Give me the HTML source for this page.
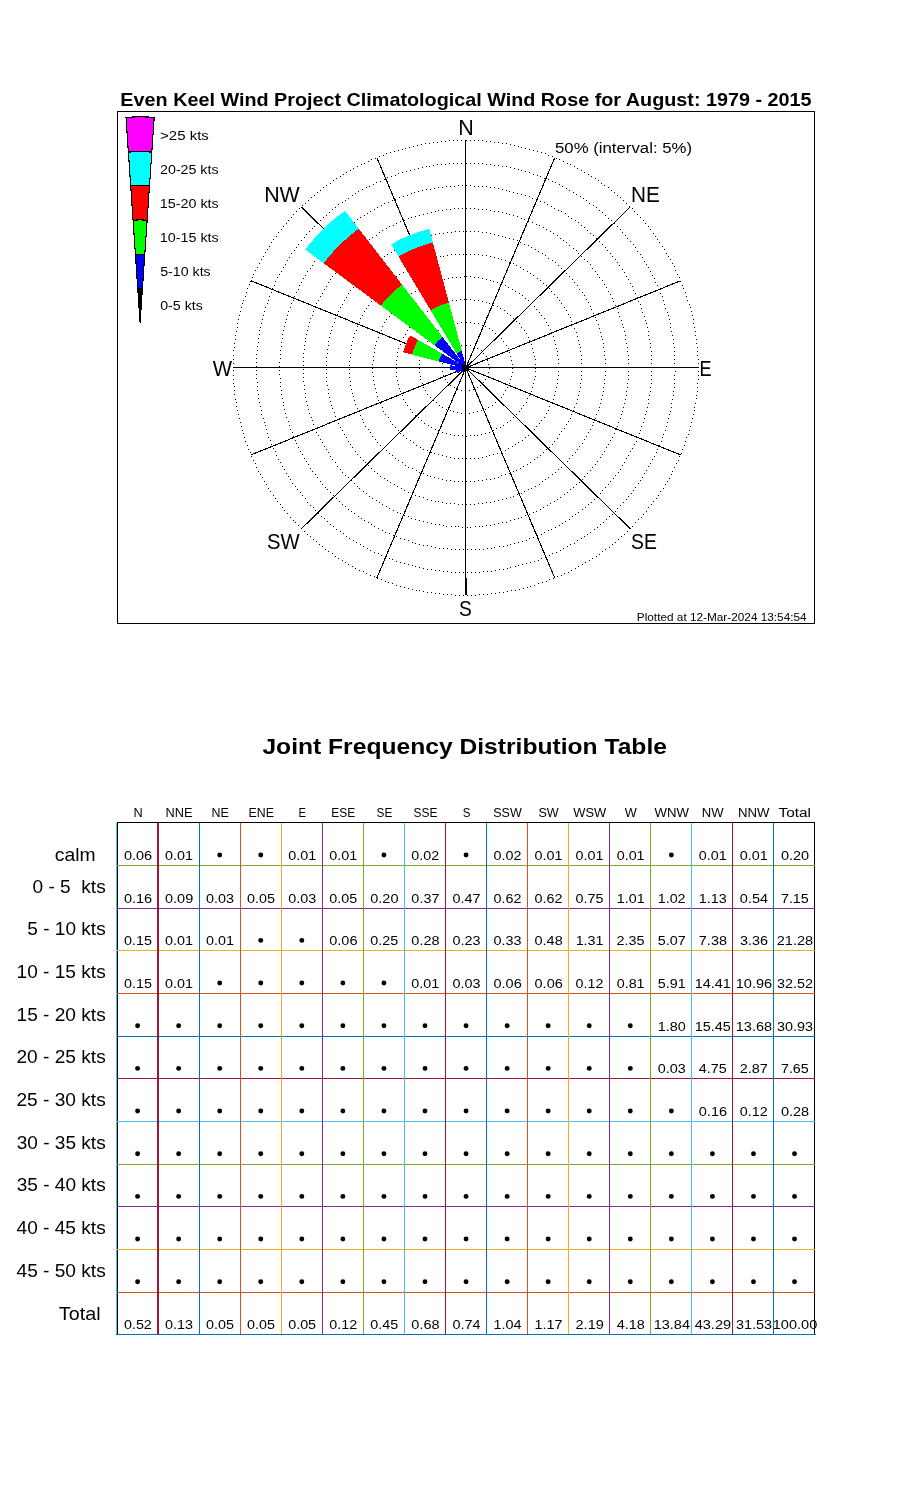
<!DOCTYPE html>
<html><head><meta charset="utf-8"><title>Wind Rose</title>
<style>html,body{margin:0;padding:0;background:#fff;}svg{display:block;will-change:transform;}
text{font-family:"Liberation Sans",sans-serif;}</style></head>
<body><svg width="900" height="1500" viewBox="0 0 900 1500">
<rect width="900" height="1500" fill="#fff"/>
<g shape-rendering="crispEdges"><rect x="117.5" y="111.5" width="697" height="512" fill="none" stroke="#000" stroke-width="1"/>
<path fill="#000" d="M466 345h1v1h-1zM470 345h1v1h-1zM474 346h1v1h-1zM477 348h1v1h-1zM481 350h1v1h-1zM483 353h1v1h-1zM486 356h1v1h-1zM487 360h1v1h-1zM488 364h1v1h-1zM489 368h1v1h-1zM488 372h1v1h-1zM487 376h1v1h-1zM485 379h1v1h-1zM483 382h1v1h-1zM480 385h1v1h-1zM477 387h1v1h-1zM473 389h1v1h-1zM469 390h1v1h-1zM465 390h1v1h-1zM461 390h1v1h-1zM457 389h1v1h-1zM454 387h1v1h-1zM450 385h1v1h-1zM447 382h1v1h-1zM445 379h1v1h-1zM443 375h1v1h-1zM442 371h1v1h-1zM442 367h1v1h-1zM442 363h1v1h-1zM444 359h1v1h-1zM445 356h1v1h-1zM448 353h1v1h-1zM450 350h1v1h-1zM454 348h1v1h-1zM457 346h1v1h-1zM461 345h1v1h-1zM465 345h1v1h-1zM466 322h1v1h-1zM470 322h1v1h-1zM474 323h1v1h-1zM478 323h1v1h-1zM482 325h1v1h-1zM485 326h1v1h-1zM489 328h1v1h-1zM492 330h1v1h-1zM495 333h1v1h-1zM498 335h1v1h-1zM501 338h1v1h-1zM503 341h1v1h-1zM506 345h1v1h-1zM508 348h1v1h-1zM509 352h1v1h-1zM510 356h1v1h-1zM511 360h1v1h-1zM512 364h1v1h-1zM512 368h1v1h-1zM512 372h1v1h-1zM511 376h1v1h-1zM510 379h1v1h-1zM509 383h1v1h-1zM507 387h1v1h-1zM505 390h1v1h-1zM503 394h1v1h-1zM501 397h1v1h-1zM498 400h1v1h-1zM495 402h1v1h-1zM492 405h1v1h-1zM488 407h1v1h-1zM485 409h1v1h-1zM481 410h1v1h-1zM477 411h1v1h-1zM473 412h1v1h-1zM469 413h1v1h-1zM465 413h1v1h-1zM461 413h1v1h-1zM457 412h1v1h-1zM453 411h1v1h-1zM450 410h1v1h-1zM446 409h1v1h-1zM442 407h1v1h-1zM439 405h1v1h-1zM436 402h1v1h-1zM433 400h1v1h-1zM430 397h1v1h-1zM427 394h1v1h-1zM425 390h1v1h-1zM423 387h1v1h-1zM422 383h1v1h-1zM420 379h1v1h-1zM420 376h1v1h-1zM419 372h1v1h-1zM419 368h1v1h-1zM419 364h1v1h-1zM419 360h1v1h-1zM420 356h1v1h-1zM422 352h1v1h-1zM423 348h1v1h-1zM425 345h1v1h-1zM427 341h1v1h-1zM430 338h1v1h-1zM432 335h1v1h-1zM435 333h1v1h-1zM438 330h1v1h-1zM442 328h1v1h-1zM445 326h1v1h-1zM449 325h1v1h-1zM453 323h1v1h-1zM457 323h1v1h-1zM461 322h1v1h-1zM465 322h1v1h-1zM466 299h1v1h-1zM470 299h1v1h-1zM474 300h1v1h-1zM478 300h1v1h-1zM482 301h1v1h-1zM486 302h1v1h-1zM489 303h1v1h-1zM493 305h1v1h-1zM497 306h1v1h-1zM500 308h1v1h-1zM504 310h1v1h-1zM507 313h1v1h-1zM510 315h1v1h-1zM513 318h1v1h-1zM516 321h1v1h-1zM519 323h1v1h-1zM521 327h1v1h-1zM524 330h1v1h-1zM526 333h1v1h-1zM528 337h1v1h-1zM529 340h1v1h-1zM531 344h1v1h-1zM532 348h1v1h-1zM533 352h1v1h-1zM534 356h1v1h-1zM535 359h1v1h-1zM535 364h1v1h-1zM535 368h1v1h-1zM535 371h1v1h-1zM535 376h1v1h-1zM534 379h1v1h-1zM533 383h1v1h-1zM532 387h1v1h-1zM531 391h1v1h-1zM529 395h1v1h-1zM527 398h1v1h-1zM526 402h1v1h-1zM523 405h1v1h-1zM521 408h1v1h-1zM519 411h1v1h-1zM516 414h1v1h-1zM513 417h1v1h-1zM510 420h1v1h-1zM507 422h1v1h-1zM503 425h1v1h-1zM500 427h1v1h-1zM496 428h1v1h-1zM493 430h1v1h-1zM489 432h1v1h-1zM485 433h1v1h-1zM481 434h1v1h-1zM477 435h1v1h-1zM474 435h1v1h-1zM470 435h1v1h-1zM466 436h1v1h-1zM462 435h1v1h-1zM458 435h1v1h-1zM454 435h1v1h-1zM450 434h1v1h-1zM446 433h1v1h-1zM442 432h1v1h-1zM438 430h1v1h-1zM435 429h1v1h-1zM431 427h1v1h-1zM428 425h1v1h-1zM424 423h1v1h-1zM421 420h1v1h-1zM418 417h1v1h-1zM415 415h1v1h-1zM412 412h1v1h-1zM410 409h1v1h-1zM407 405h1v1h-1zM405 402h1v1h-1zM403 399h1v1h-1zM402 395h1v1h-1zM400 391h1v1h-1zM399 388h1v1h-1zM398 384h1v1h-1zM397 380h1v1h-1zM396 376h1v1h-1zM396 372h1v1h-1zM396 368h1v1h-1zM396 364h1v1h-1zM396 360h1v1h-1zM397 356h1v1h-1zM397 352h1v1h-1zM398 348h1v1h-1zM400 344h1v1h-1zM401 341h1v1h-1zM403 337h1v1h-1zM405 334h1v1h-1zM407 330h1v1h-1zM409 327h1v1h-1zM412 324h1v1h-1zM414 321h1v1h-1zM417 318h1v1h-1zM420 315h1v1h-1zM423 313h1v1h-1zM427 311h1v1h-1zM430 309h1v1h-1zM433 307h1v1h-1zM437 305h1v1h-1zM441 303h1v1h-1zM445 302h1v1h-1zM448 301h1v1h-1zM452 300h1v1h-1zM456 300h1v1h-1zM460 299h1v1h-1zM464 299h1v1h-1zM466 276h1v1h-1zM470 276h1v1h-1zM474 277h1v1h-1zM478 277h1v1h-1zM482 278h1v1h-1zM486 279h1v1h-1zM490 280h1v1h-1zM493 281h1v1h-1zM497 282h1v1h-1zM501 283h1v1h-1zM505 285h1v1h-1zM508 287h1v1h-1zM512 289h1v1h-1zM515 291h1v1h-1zM519 293h1v1h-1zM522 295h1v1h-1zM525 298h1v1h-1zM528 300h1v1h-1zM531 303h1v1h-1zM534 306h1v1h-1zM536 309h1v1h-1zM539 312h1v1h-1zM541 315h1v1h-1zM544 318h1v1h-1zM546 322h1v1h-1zM548 325h1v1h-1zM550 329h1v1h-1zM551 332h1v1h-1zM553 336h1v1h-1zM554 340h1v1h-1zM555 344h1v1h-1zM556 348h1v1h-1zM557 351h1v1h-1zM557 355h1v1h-1zM558 359h1v1h-1zM558 363h1v1h-1zM558 367h1v1h-1zM558 371h1v1h-1zM558 375h1v1h-1zM557 379h1v1h-1zM557 383h1v1h-1zM556 387h1v1h-1zM555 391h1v1h-1zM554 395h1v1h-1zM553 399h1v1h-1zM551 402h1v1h-1zM549 406h1v1h-1zM548 410h1v1h-1zM546 413h1v1h-1zM544 417h1v1h-1zM541 420h1v1h-1zM539 423h1v1h-1zM536 426h1v1h-1zM534 429h1v1h-1zM531 432h1v1h-1zM528 435h1v1h-1zM525 437h1v1h-1zM522 440h1v1h-1zM518 442h1v1h-1zM515 444h1v1h-1zM512 446h1v1h-1zM508 448h1v1h-1zM505 450h1v1h-1zM501 451h1v1h-1zM497 453h1v1h-1zM493 454h1v1h-1zM489 455h1v1h-1zM486 456h1v1h-1zM482 457h1v1h-1zM478 458h1v1h-1zM474 458h1v1h-1zM470 458h1v1h-1zM466 458h1v1h-1zM462 458h1v1h-1zM458 458h1v1h-1zM454 458h1v1h-1zM450 457h1v1h-1zM446 456h1v1h-1zM442 455h1v1h-1zM438 454h1v1h-1zM434 453h1v1h-1zM431 452h1v1h-1zM427 450h1v1h-1zM423 449h1v1h-1zM420 447h1v1h-1zM416 445h1v1h-1zM413 442h1v1h-1zM410 440h1v1h-1zM406 438h1v1h-1zM403 435h1v1h-1zM400 433h1v1h-1zM398 430h1v1h-1zM395 427h1v1h-1zM392 424h1v1h-1zM390 421h1v1h-1zM388 417h1v1h-1zM385 414h1v1h-1zM383 411h1v1h-1zM382 407h1v1h-1zM380 403h1v1h-1zM378 400h1v1h-1zM377 396h1v1h-1zM376 392h1v1h-1zM375 388h1v1h-1zM374 384h1v1h-1zM373 380h1v1h-1zM373 376h1v1h-1zM372 372h1v1h-1zM372 368h1v1h-1zM372 364h1v1h-1zM373 360h1v1h-1zM373 356h1v1h-1zM374 352h1v1h-1zM374 348h1v1h-1zM375 345h1v1h-1zM376 341h1v1h-1zM378 337h1v1h-1zM379 333h1v1h-1zM381 330h1v1h-1zM382 326h1v1h-1zM384 322h1v1h-1zM386 319h1v1h-1zM389 316h1v1h-1zM391 313h1v1h-1zM394 309h1v1h-1zM396 306h1v1h-1zM399 304h1v1h-1zM402 301h1v1h-1zM405 298h1v1h-1zM408 296h1v1h-1zM411 293h1v1h-1zM415 291h1v1h-1zM418 289h1v1h-1zM422 287h1v1h-1zM425 285h1v1h-1zM429 284h1v1h-1zM432 282h1v1h-1zM436 281h1v1h-1zM440 280h1v1h-1zM444 279h1v1h-1zM448 278h1v1h-1zM452 277h1v1h-1zM456 277h1v1h-1zM460 277h1v1h-1zM464 276h1v1h-1zM466 254h1v1h-1zM470 254h1v1h-1zM474 254h1v1h-1zM478 254h1v1h-1zM482 255h1v1h-1zM486 255h1v1h-1zM490 256h1v1h-1zM494 257h1v1h-1zM498 258h1v1h-1zM501 259h1v1h-1zM505 260h1v1h-1zM509 262h1v1h-1zM513 263h1v1h-1zM516 265h1v1h-1zM520 267h1v1h-1zM523 269h1v1h-1zM527 271h1v1h-1zM530 273h1v1h-1zM533 275h1v1h-1zM537 278h1v1h-1zM540 280h1v1h-1zM543 283h1v1h-1zM546 285h1v1h-1zM549 288h1v1h-1zM551 291h1v1h-1zM554 294h1v1h-1zM557 297h1v1h-1zM559 300h1v1h-1zM561 303h1v1h-1zM564 307h1v1h-1zM566 310h1v1h-1zM568 314h1v1h-1zM570 317h1v1h-1zM571 321h1v1h-1zM573 324h1v1h-1zM574 328h1v1h-1zM576 332h1v1h-1zM577 336h1v1h-1zM578 340h1v1h-1zM579 344h1v1h-1zM580 347h1v1h-1zM580 351h1v1h-1zM581 355h1v1h-1zM581 359h1v1h-1zM581 363h1v1h-1zM582 367h1v1h-1zM581 371h1v1h-1zM581 375h1v1h-1zM581 379h1v1h-1zM580 383h1v1h-1zM580 387h1v1h-1zM579 391h1v1h-1zM578 395h1v1h-1zM577 399h1v1h-1zM576 403h1v1h-1zM574 407h1v1h-1zM573 410h1v1h-1zM571 414h1v1h-1zM570 418h1v1h-1zM568 421h1v1h-1zM566 424h1v1h-1zM564 428h1v1h-1zM561 431h1v1h-1zM559 434h1v1h-1zM557 438h1v1h-1zM554 441h1v1h-1zM552 444h1v1h-1zM549 447h1v1h-1zM546 449h1v1h-1zM543 452h1v1h-1zM540 455h1v1h-1zM537 457h1v1h-1zM534 459h1v1h-1zM530 462h1v1h-1zM527 464h1v1h-1zM523 466h1v1h-1zM520 468h1v1h-1zM516 470h1v1h-1zM513 471h1v1h-1zM509 473h1v1h-1zM505 474h1v1h-1zM501 475h1v1h-1zM498 477h1v1h-1zM494 478h1v1h-1zM490 479h1v1h-1zM486 479h1v1h-1zM482 480h1v1h-1zM478 480h1v1h-1zM474 481h1v1h-1zM470 481h1v1h-1zM466 481h1v1h-1zM462 481h1v1h-1zM458 481h1v1h-1zM454 481h1v1h-1zM450 480h1v1h-1zM446 480h1v1h-1zM442 479h1v1h-1zM438 478h1v1h-1zM434 477h1v1h-1zM430 476h1v1h-1zM427 475h1v1h-1zM423 473h1v1h-1zM419 472h1v1h-1zM416 470h1v1h-1zM412 468h1v1h-1zM408 467h1v1h-1zM405 465h1v1h-1zM402 462h1v1h-1zM398 460h1v1h-1zM395 458h1v1h-1zM392 455h1v1h-1zM389 453h1v1h-1zM386 450h1v1h-1zM383 448h1v1h-1zM380 445h1v1h-1zM377 442h1v1h-1zM375 439h1v1h-1zM372 436h1v1h-1zM370 432h1v1h-1zM368 429h1v1h-1zM365 426h1v1h-1zM363 422h1v1h-1zM362 419h1v1h-1zM360 415h1v1h-1zM358 411h1v1h-1zM357 408h1v1h-1zM355 404h1v1h-1zM354 400h1v1h-1zM353 396h1v1h-1zM352 393h1v1h-1zM351 389h1v1h-1zM350 385h1v1h-1zM350 381h1v1h-1zM349 377h1v1h-1zM349 373h1v1h-1zM349 369h1v1h-1zM349 365h1v1h-1zM349 361h1v1h-1zM350 357h1v1h-1zM350 353h1v1h-1zM351 349h1v1h-1zM351 345h1v1h-1zM352 341h1v1h-1zM353 337h1v1h-1zM354 333h1v1h-1zM356 330h1v1h-1zM357 326h1v1h-1zM359 322h1v1h-1zM360 318h1v1h-1zM362 315h1v1h-1zM364 311h1v1h-1zM366 308h1v1h-1zM368 305h1v1h-1zM371 301h1v1h-1zM373 298h1v1h-1zM376 295h1v1h-1zM378 292h1v1h-1zM381 289h1v1h-1zM384 286h1v1h-1zM387 283h1v1h-1zM390 281h1v1h-1zM393 278h1v1h-1zM396 276h1v1h-1zM399 274h1v1h-1zM403 272h1v1h-1zM406 269h1v1h-1zM410 268h1v1h-1zM413 266h1v1h-1zM417 264h1v1h-1zM420 262h1v1h-1zM424 261h1v1h-1zM428 260h1v1h-1zM432 258h1v1h-1zM436 257h1v1h-1zM440 256h1v1h-1zM443 256h1v1h-1zM447 255h1v1h-1zM451 254h1v1h-1zM455 254h1v1h-1zM459 254h1v1h-1zM463 254h1v1h-1zM466 231h1v1h-1zM470 231h1v1h-1zM474 231h1v1h-1zM478 231h1v1h-1zM482 232h1v1h-1zM486 232h1v1h-1zM490 233h1v1h-1zM494 234h1v1h-1zM498 235h1v1h-1zM502 236h1v1h-1zM505 237h1v1h-1zM509 238h1v1h-1zM513 239h1v1h-1zM517 240h1v1h-1zM520 242h1v1h-1zM524 244h1v1h-1zM528 245h1v1h-1zM531 247h1v1h-1zM535 249h1v1h-1zM538 251h1v1h-1zM542 253h1v1h-1zM545 255h1v1h-1zM548 258h1v1h-1zM552 260h1v1h-1zM555 262h1v1h-1zM558 265h1v1h-1zM561 268h1v1h-1zM564 270h1v1h-1zM566 273h1v1h-1zM569 276h1v1h-1zM572 279h1v1h-1zM574 282h1v1h-1zM577 285h1v1h-1zM579 289h1v1h-1zM582 292h1v1h-1zM584 295h1v1h-1zM586 299h1v1h-1zM588 302h1v1h-1zM590 306h1v1h-1zM591 309h1v1h-1zM593 313h1v1h-1zM595 317h1v1h-1zM596 320h1v1h-1zM598 324h1v1h-1zM599 328h1v1h-1zM600 332h1v1h-1zM601 336h1v1h-1zM602 339h1v1h-1zM603 343h1v1h-1zM603 347h1v1h-1zM604 351h1v1h-1zM604 355h1v1h-1zM605 359h1v1h-1zM605 363h1v1h-1zM605 367h1v1h-1zM605 371h1v1h-1zM605 375h1v1h-1zM604 379h1v1h-1zM604 383h1v1h-1zM603 387h1v1h-1zM603 391h1v1h-1zM602 395h1v1h-1zM601 399h1v1h-1zM600 403h1v1h-1zM599 407h1v1h-1zM598 410h1v1h-1zM596 414h1v1h-1zM595 418h1v1h-1zM593 422h1v1h-1zM592 425h1v1h-1zM590 429h1v1h-1zM588 432h1v1h-1zM586 436h1v1h-1zM584 439h1v1h-1zM582 443h1v1h-1zM579 446h1v1h-1zM577 449h1v1h-1zM575 452h1v1h-1zM572 455h1v1h-1zM569 458h1v1h-1zM567 461h1v1h-1zM564 464h1v1h-1zM561 467h1v1h-1zM558 469h1v1h-1zM555 472h1v1h-1zM552 474h1v1h-1zM548 477h1v1h-1zM545 479h1v1h-1zM542 481h1v1h-1zM539 484h1v1h-1zM535 486h1v1h-1zM531 488h1v1h-1zM528 489h1v1h-1zM524 491h1v1h-1zM521 493h1v1h-1zM517 494h1v1h-1zM513 496h1v1h-1zM510 497h1v1h-1zM506 498h1v1h-1zM502 499h1v1h-1zM498 500h1v1h-1zM494 501h1v1h-1zM490 502h1v1h-1zM486 502h1v1h-1zM482 503h1v1h-1zM478 503h1v1h-1zM474 504h1v1h-1zM470 504h1v1h-1zM466 504h1v1h-1zM462 504h1v1h-1zM458 504h1v1h-1zM454 503h1v1h-1zM450 503h1v1h-1zM446 503h1v1h-1zM442 502h1v1h-1zM438 501h1v1h-1zM435 501h1v1h-1zM431 500h1v1h-1zM427 499h1v1h-1zM423 497h1v1h-1zM419 496h1v1h-1zM415 495h1v1h-1zM412 493h1v1h-1zM408 492h1v1h-1zM404 490h1v1h-1zM401 488h1v1h-1zM397 486h1v1h-1zM394 484h1v1h-1zM390 482h1v1h-1zM387 480h1v1h-1zM384 478h1v1h-1zM380 476h1v1h-1zM377 473h1v1h-1zM374 471h1v1h-1zM371 468h1v1h-1zM368 465h1v1h-1zM365 462h1v1h-1zM363 460h1v1h-1zM360 457h1v1h-1zM357 454h1v1h-1zM355 451h1v1h-1zM352 447h1v1h-1zM350 444h1v1h-1zM348 441h1v1h-1zM346 437h1v1h-1zM344 434h1v1h-1zM342 430h1v1h-1zM340 427h1v1h-1zM338 423h1v1h-1zM336 420h1v1h-1zM335 416h1v1h-1zM334 412h1v1h-1zM332 408h1v1h-1zM331 405h1v1h-1zM330 401h1v1h-1zM329 397h1v1h-1zM328 393h1v1h-1zM328 389h1v1h-1zM327 385h1v1h-1zM326 381h1v1h-1zM326 377h1v1h-1zM326 373h1v1h-1zM326 369h1v1h-1zM326 365h1v1h-1zM326 361h1v1h-1zM326 357h1v1h-1zM327 353h1v1h-1zM327 349h1v1h-1zM328 345h1v1h-1zM328 341h1v1h-1zM329 337h1v1h-1zM330 333h1v1h-1zM331 330h1v1h-1zM332 326h1v1h-1zM334 322h1v1h-1zM335 318h1v1h-1zM337 314h1v1h-1zM338 311h1v1h-1zM340 307h1v1h-1zM342 304h1v1h-1zM344 300h1v1h-1zM346 297h1v1h-1zM348 293h1v1h-1zM350 290h1v1h-1zM353 287h1v1h-1zM355 284h1v1h-1zM358 281h1v1h-1zM360 278h1v1h-1zM363 275h1v1h-1zM366 272h1v1h-1zM369 269h1v1h-1zM371 266h1v1h-1zM375 264h1v1h-1zM378 261h1v1h-1zM381 259h1v1h-1zM384 256h1v1h-1zM387 254h1v1h-1zM391 252h1v1h-1zM394 250h1v1h-1zM398 248h1v1h-1zM401 246h1v1h-1zM405 244h1v1h-1zM408 243h1v1h-1zM412 241h1v1h-1zM416 240h1v1h-1zM420 238h1v1h-1zM424 237h1v1h-1zM427 236h1v1h-1zM431 235h1v1h-1zM435 234h1v1h-1zM439 233h1v1h-1zM443 233h1v1h-1zM447 232h1v1h-1zM451 232h1v1h-1zM455 231h1v1h-1zM459 231h1v1h-1zM463 231h1v1h-1zM466 208h1v1h-1zM470 208h1v1h-1zM474 208h1v1h-1zM478 209h1v1h-1zM482 209h1v1h-1zM486 209h1v1h-1zM490 210h1v1h-1zM494 211h1v1h-1zM498 211h1v1h-1zM502 212h1v1h-1zM506 213h1v1h-1zM509 214h1v1h-1zM513 215h1v1h-1zM517 216h1v1h-1zM521 218h1v1h-1zM524 219h1v1h-1zM528 221h1v1h-1zM532 222h1v1h-1zM536 224h1v1h-1zM539 225h1v1h-1zM543 227h1v1h-1zM546 229h1v1h-1zM550 231h1v1h-1zM553 233h1v1h-1zM557 235h1v1h-1zM560 238h1v1h-1zM563 240h1v1h-1zM566 242h1v1h-1zM569 245h1v1h-1zM573 248h1v1h-1zM576 250h1v1h-1zM578 253h1v1h-1zM581 256h1v1h-1zM584 259h1v1h-1zM587 261h1v1h-1zM590 264h1v1h-1zM592 268h1v1h-1zM595 271h1v1h-1zM597 274h1v1h-1zM599 277h1v1h-1zM602 280h1v1h-1zM604 284h1v1h-1zM606 287h1v1h-1zM608 291h1v1h-1zM610 294h1v1h-1zM612 298h1v1h-1zM613 301h1v1h-1zM615 305h1v1h-1zM617 308h1v1h-1zM618 312h1v1h-1zM619 316h1v1h-1zM621 320h1v1h-1zM622 324h1v1h-1zM623 327h1v1h-1zM624 331h1v1h-1zM625 335h1v1h-1zM625 339h1v1h-1zM626 343h1v1h-1zM627 347h1v1h-1zM627 351h1v1h-1zM628 355h1v1h-1zM628 359h1v1h-1zM628 363h1v1h-1zM628 367h1v1h-1zM628 371h1v1h-1zM628 375h1v1h-1zM628 379h1v1h-1zM627 383h1v1h-1zM627 387h1v1h-1zM626 391h1v1h-1zM626 395h1v1h-1zM625 399h1v1h-1zM624 403h1v1h-1zM623 407h1v1h-1zM622 411h1v1h-1zM621 414h1v1h-1zM620 418h1v1h-1zM618 422h1v1h-1zM617 426h1v1h-1zM615 429h1v1h-1zM614 433h1v1h-1zM612 437h1v1h-1zM610 440h1v1h-1zM608 444h1v1h-1zM606 447h1v1h-1zM604 451h1v1h-1zM602 454h1v1h-1zM600 457h1v1h-1zM597 461h1v1h-1zM595 464h1v1h-1zM592 467h1v1h-1zM590 470h1v1h-1zM587 473h1v1h-1zM584 476h1v1h-1zM582 479h1v1h-1zM579 482h1v1h-1zM576 484h1v1h-1zM573 487h1v1h-1zM570 489h1v1h-1zM567 492h1v1h-1zM564 494h1v1h-1zM560 497h1v1h-1zM557 499h1v1h-1zM554 501h1v1h-1zM550 503h1v1h-1zM547 505h1v1h-1zM543 507h1v1h-1zM540 509h1v1h-1zM536 511h1v1h-1zM533 512h1v1h-1zM529 514h1v1h-1zM525 515h1v1h-1zM521 517h1v1h-1zM518 518h1v1h-1zM514 519h1v1h-1zM510 520h1v1h-1zM506 522h1v1h-1zM502 522h1v1h-1zM498 523h1v1h-1zM494 524h1v1h-1zM490 525h1v1h-1zM486 525h1v1h-1zM482 526h1v1h-1zM479 526h1v1h-1zM475 526h1v1h-1zM470 527h1v1h-1zM467 527h1v1h-1zM462 527h1v1h-1zM458 526h1v1h-1zM455 526h1v1h-1zM451 526h1v1h-1zM446 526h1v1h-1zM443 525h1v1h-1zM439 524h1v1h-1zM435 524h1v1h-1zM431 523h1v1h-1zM427 522h1v1h-1zM423 521h1v1h-1zM419 520h1v1h-1zM415 519h1v1h-1zM411 518h1v1h-1zM408 516h1v1h-1zM404 515h1v1h-1zM400 513h1v1h-1zM397 512h1v1h-1zM393 510h1v1h-1zM389 508h1v1h-1zM386 506h1v1h-1zM382 504h1v1h-1zM379 502h1v1h-1zM376 500h1v1h-1zM372 498h1v1h-1zM369 496h1v1h-1zM366 493h1v1h-1zM363 491h1v1h-1zM359 488h1v1h-1zM357 486h1v1h-1zM354 483h1v1h-1zM351 480h1v1h-1zM348 477h1v1h-1zM345 475h1v1h-1zM342 472h1v1h-1zM340 469h1v1h-1zM337 466h1v1h-1zM335 462h1v1h-1zM332 459h1v1h-1zM330 456h1v1h-1zM328 452h1v1h-1zM326 449h1v1h-1zM324 446h1v1h-1zM322 442h1v1h-1zM320 439h1v1h-1zM318 435h1v1h-1zM316 432h1v1h-1zM315 428h1v1h-1zM313 424h1v1h-1zM312 420h1v1h-1zM311 417h1v1h-1zM309 413h1v1h-1zM308 409h1v1h-1zM307 405h1v1h-1zM306 401h1v1h-1zM305 397h1v1h-1zM305 393h1v1h-1zM304 389h1v1h-1zM304 385h1v1h-1zM303 381h1v1h-1zM303 377h1v1h-1zM303 373h1v1h-1zM303 369h1v1h-1zM303 365h1v1h-1zM303 361h1v1h-1zM303 357h1v1h-1zM303 353h1v1h-1zM304 349h1v1h-1zM304 345h1v1h-1zM305 341h1v1h-1zM305 338h1v1h-1zM306 334h1v1h-1zM307 330h1v1h-1zM308 326h1v1h-1zM309 322h1v1h-1zM310 318h1v1h-1zM312 315h1v1h-1zM313 311h1v1h-1zM315 307h1v1h-1zM316 303h1v1h-1zM318 300h1v1h-1zM320 296h1v1h-1zM322 293h1v1h-1zM324 289h1v1h-1zM326 286h1v1h-1zM328 282h1v1h-1zM330 279h1v1h-1zM332 276h1v1h-1zM335 273h1v1h-1zM337 269h1v1h-1zM340 266h1v1h-1zM342 263h1v1h-1zM345 260h1v1h-1zM348 257h1v1h-1zM350 255h1v1h-1zM353 252h1v1h-1zM356 249h1v1h-1zM359 246h1v1h-1zM363 244h1v1h-1zM366 242h1v1h-1zM369 239h1v1h-1zM372 237h1v1h-1zM376 235h1v1h-1zM379 232h1v1h-1zM382 230h1v1h-1zM386 228h1v1h-1zM389 226h1v1h-1zM393 225h1v1h-1zM396 223h1v1h-1zM400 221h1v1h-1zM404 220h1v1h-1zM408 218h1v1h-1zM411 217h1v1h-1zM415 216h1v1h-1zM419 215h1v1h-1zM423 214h1v1h-1zM427 213h1v1h-1zM431 212h1v1h-1zM435 211h1v1h-1zM438 210h1v1h-1zM442 210h1v1h-1zM446 209h1v1h-1zM450 209h1v1h-1zM454 208h1v1h-1zM458 208h1v1h-1zM462 208h1v1h-1zM466 185h1v1h-1zM470 185h1v1h-1zM474 186h1v1h-1zM478 186h1v1h-1zM482 186h1v1h-1zM486 186h1v1h-1zM490 187h1v1h-1zM494 187h1v1h-1zM498 188h1v1h-1zM502 189h1v1h-1zM506 190h1v1h-1zM509 191h1v1h-1zM513 192h1v1h-1zM517 193h1v1h-1zM521 194h1v1h-1zM525 195h1v1h-1zM529 196h1v1h-1zM532 198h1v1h-1zM536 199h1v1h-1zM540 201h1v1h-1zM544 202h1v1h-1zM547 204h1v1h-1zM551 206h1v1h-1zM554 208h1v1h-1zM558 210h1v1h-1zM561 211h1v1h-1zM565 213h1v1h-1zM568 216h1v1h-1zM571 218h1v1h-1zM575 220h1v1h-1zM578 222h1v1h-1zM581 225h1v1h-1zM584 227h1v1h-1zM587 230h1v1h-1zM590 233h1v1h-1zM593 235h1v1h-1zM596 238h1v1h-1zM599 241h1v1h-1zM602 244h1v1h-1zM605 247h1v1h-1zM607 250h1v1h-1zM610 253h1v1h-1zM612 256h1v1h-1zM615 259h1v1h-1zM617 262h1v1h-1zM619 265h1v1h-1zM622 269h1v1h-1zM624 272h1v1h-1zM626 276h1v1h-1zM628 279h1v1h-1zM630 283h1v1h-1zM632 286h1v1h-1zM633 290h1v1h-1zM635 293h1v1h-1zM637 297h1v1h-1zM638 301h1v1h-1zM640 304h1v1h-1zM641 308h1v1h-1zM642 312h1v1h-1zM644 316h1v1h-1zM645 320h1v1h-1zM646 323h1v1h-1zM647 327h1v1h-1zM648 331h1v1h-1zM648 335h1v1h-1zM649 339h1v1h-1zM650 343h1v1h-1zM650 347h1v1h-1zM651 351h1v1h-1zM651 355h1v1h-1zM651 359h1v1h-1zM651 363h1v1h-1zM651 367h1v1h-1zM651 371h1v1h-1zM651 375h1v1h-1zM651 379h1v1h-1zM651 383h1v1h-1zM650 387h1v1h-1zM650 391h1v1h-1zM649 395h1v1h-1zM648 399h1v1h-1zM648 403h1v1h-1zM647 407h1v1h-1zM646 411h1v1h-1zM645 414h1v1h-1zM644 418h1v1h-1zM643 422h1v1h-1zM641 426h1v1h-1zM640 430h1v1h-1zM639 433h1v1h-1zM637 437h1v1h-1zM636 441h1v1h-1zM634 444h1v1h-1zM632 448h1v1h-1zM630 451h1v1h-1zM628 455h1v1h-1zM626 458h1v1h-1zM624 462h1v1h-1zM622 465h1v1h-1zM620 469h1v1h-1zM618 472h1v1h-1zM615 475h1v1h-1zM613 478h1v1h-1zM610 481h1v1h-1zM608 484h1v1h-1zM605 487h1v1h-1zM602 490h1v1h-1zM600 493h1v1h-1zM597 496h1v1h-1zM594 499h1v1h-1zM591 502h1v1h-1zM588 504h1v1h-1zM585 507h1v1h-1zM582 509h1v1h-1zM578 512h1v1h-1zM575 514h1v1h-1zM572 516h1v1h-1zM569 519h1v1h-1zM565 521h1v1h-1zM562 523h1v1h-1zM559 525h1v1h-1zM555 527h1v1h-1zM551 529h1v1h-1zM548 530h1v1h-1zM544 532h1v1h-1zM541 534h1v1h-1zM537 535h1v1h-1zM533 537h1v1h-1zM529 538h1v1h-1zM526 540h1v1h-1zM522 541h1v1h-1zM518 542h1v1h-1zM514 543h1v1h-1zM510 544h1v1h-1zM507 545h1v1h-1zM503 546h1v1h-1zM499 546h1v1h-1zM494 547h1v1h-1zM491 548h1v1h-1zM487 548h1v1h-1zM483 549h1v1h-1zM479 549h1v1h-1zM475 549h1v1h-1zM471 549h1v1h-1zM467 549h1v1h-1zM463 549h1v1h-1zM459 549h1v1h-1zM455 549h1v1h-1zM451 549h1v1h-1zM447 548h1v1h-1zM443 548h1v1h-1zM439 548h1v1h-1zM435 547h1v1h-1zM431 546h1v1h-1zM427 545h1v1h-1zM423 545h1v1h-1zM419 544h1v1h-1zM415 543h1v1h-1zM412 542h1v1h-1zM408 540h1v1h-1zM404 539h1v1h-1zM400 538h1v1h-1zM396 536h1v1h-1zM393 535h1v1h-1zM389 533h1v1h-1zM385 532h1v1h-1zM382 530h1v1h-1zM378 528h1v1h-1zM374 526h1v1h-1zM371 524h1v1h-1zM368 522h1v1h-1zM364 520h1v1h-1zM361 518h1v1h-1zM358 516h1v1h-1zM354 513h1v1h-1zM351 511h1v1h-1zM348 509h1v1h-1zM345 506h1v1h-1zM342 504h1v1h-1zM339 501h1v1h-1zM336 498h1v1h-1zM333 495h1v1h-1zM330 492h1v1h-1zM327 489h1v1h-1zM325 487h1v1h-1zM322 484h1v1h-1zM320 481h1v1h-1zM317 477h1v1h-1zM315 474h1v1h-1zM312 471h1v1h-1zM310 468h1v1h-1zM308 464h1v1h-1zM306 461h1v1h-1zM304 458h1v1h-1zM302 454h1v1h-1zM300 451h1v1h-1zM298 447h1v1h-1zM296 443h1v1h-1zM295 440h1v1h-1zM293 436h1v1h-1zM292 432h1v1h-1zM290 429h1v1h-1zM289 425h1v1h-1zM288 421h1v1h-1zM286 417h1v1h-1zM285 413h1v1h-1zM284 409h1v1h-1zM283 405h1v1h-1zM283 402h1v1h-1zM282 398h1v1h-1zM281 394h1v1h-1zM281 390h1v1h-1zM280 386h1v1h-1zM280 382h1v1h-1zM280 378h1v1h-1zM279 374h1v1h-1zM279 370h1v1h-1zM279 366h1v1h-1zM279 362h1v1h-1zM280 358h1v1h-1zM280 354h1v1h-1zM280 350h1v1h-1zM281 346h1v1h-1zM281 342h1v1h-1zM282 338h1v1h-1zM282 334h1v1h-1zM283 330h1v1h-1zM284 326h1v1h-1zM285 322h1v1h-1zM286 319h1v1h-1zM287 315h1v1h-1zM288 311h1v1h-1zM290 307h1v1h-1zM291 303h1v1h-1zM293 300h1v1h-1zM294 296h1v1h-1zM296 292h1v1h-1zM298 289h1v1h-1zM299 285h1v1h-1zM301 282h1v1h-1zM303 278h1v1h-1zM305 275h1v1h-1zM307 271h1v1h-1zM310 268h1v1h-1zM312 265h1v1h-1zM314 261h1v1h-1zM317 258h1v1h-1zM319 255h1v1h-1zM322 252h1v1h-1zM324 249h1v1h-1zM327 246h1v1h-1zM330 243h1v1h-1zM332 240h1v1h-1zM335 237h1v1h-1zM338 235h1v1h-1zM341 232h1v1h-1zM344 229h1v1h-1zM347 227h1v1h-1zM350 224h1v1h-1zM354 222h1v1h-1zM357 219h1v1h-1zM360 217h1v1h-1zM364 215h1v1h-1zM367 213h1v1h-1zM370 211h1v1h-1zM374 209h1v1h-1zM377 207h1v1h-1zM381 205h1v1h-1zM384 203h1v1h-1zM388 202h1v1h-1zM392 200h1v1h-1zM395 199h1v1h-1zM399 197h1v1h-1zM403 196h1v1h-1zM407 195h1v1h-1zM411 193h1v1h-1zM414 192h1v1h-1zM418 191h1v1h-1zM422 190h1v1h-1zM426 189h1v1h-1zM430 189h1v1h-1zM434 188h1v1h-1zM438 187h1v1h-1zM442 187h1v1h-1zM446 186h1v1h-1zM450 186h1v1h-1zM454 186h1v1h-1zM458 185h1v1h-1zM462 185h1v1h-1zM466 163h1v1h-1zM470 163h1v1h-1zM474 163h1v1h-1zM478 163h1v1h-1zM482 163h1v1h-1zM486 164h1v1h-1zM490 164h1v1h-1zM494 165h1v1h-1zM498 165h1v1h-1zM502 166h1v1h-1zM506 166h1v1h-1zM510 167h1v1h-1zM514 168h1v1h-1zM518 169h1v1h-1zM521 170h1v1h-1zM525 171h1v1h-1zM529 172h1v1h-1zM533 174h1v1h-1zM537 175h1v1h-1zM540 176h1v1h-1zM544 178h1v1h-1zM548 179h1v1h-1zM552 181h1v1h-1zM555 182h1v1h-1zM559 184h1v1h-1zM562 186h1v1h-1zM566 188h1v1h-1zM569 190h1v1h-1zM573 192h1v1h-1zM576 194h1v1h-1zM580 196h1v1h-1zM583 198h1v1h-1zM586 200h1v1h-1zM589 203h1v1h-1zM593 205h1v1h-1zM596 207h1v1h-1zM599 210h1v1h-1zM602 212h1v1h-1zM605 215h1v1h-1zM608 218h1v1h-1zM611 220h1v1h-1zM614 223h1v1h-1zM617 226h1v1h-1zM620 229h1v1h-1zM622 232h1v1h-1zM625 235h1v1h-1zM627 238h1v1h-1zM630 241h1v1h-1zM633 244h1v1h-1zM635 247h1v1h-1zM637 251h1v1h-1zM640 254h1v1h-1zM642 257h1v1h-1zM644 261h1v1h-1zM646 264h1v1h-1zM648 267h1v1h-1zM650 271h1v1h-1zM652 275h1v1h-1zM654 278h1v1h-1zM655 282h1v1h-1zM657 285h1v1h-1zM659 289h1v1h-1zM660 293h1v1h-1zM662 296h1v1h-1zM663 300h1v1h-1zM664 304h1v1h-1zM665 308h1v1h-1zM667 312h1v1h-1zM668 315h1v1h-1zM669 319h1v1h-1zM670 323h1v1h-1zM670 327h1v1h-1zM671 331h1v1h-1zM672 335h1v1h-1zM673 339h1v1h-1zM673 343h1v1h-1zM674 347h1v1h-1zM674 351h1v1h-1zM674 355h1v1h-1zM674 359h1v1h-1zM674 363h1v1h-1zM675 367h1v1h-1zM675 371h1v1h-1zM674 375h1v1h-1zM674 379h1v1h-1zM674 383h1v1h-1zM674 387h1v1h-1zM673 391h1v1h-1zM673 395h1v1h-1zM672 399h1v1h-1zM671 403h1v1h-1zM671 407h1v1h-1zM670 411h1v1h-1zM669 414h1v1h-1zM668 418h1v1h-1zM667 422h1v1h-1zM666 426h1v1h-1zM665 430h1v1h-1zM663 434h1v1h-1zM662 437h1v1h-1zM661 441h1v1h-1zM659 445h1v1h-1zM657 449h1v1h-1zM656 452h1v1h-1zM654 456h1v1h-1zM652 459h1v1h-1zM650 463h1v1h-1zM648 466h1v1h-1zM646 470h1v1h-1zM644 473h1v1h-1zM642 477h1v1h-1zM640 480h1v1h-1zM638 483h1v1h-1zM635 487h1v1h-1zM633 490h1v1h-1zM631 493h1v1h-1zM628 496h1v1h-1zM626 499h1v1h-1zM623 502h1v1h-1zM620 505h1v1h-1zM617 508h1v1h-1zM615 511h1v1h-1zM612 514h1v1h-1zM609 516h1v1h-1zM606 519h1v1h-1zM603 522h1v1h-1zM600 524h1v1h-1zM597 527h1v1h-1zM594 529h1v1h-1zM590 532h1v1h-1zM587 534h1v1h-1zM584 536h1v1h-1zM581 538h1v1h-1zM577 540h1v1h-1zM574 543h1v1h-1zM570 544h1v1h-1zM567 546h1v1h-1zM563 548h1v1h-1zM560 550h1v1h-1zM556 552h1v1h-1zM552 553h1v1h-1zM549 555h1v1h-1zM545 557h1v1h-1zM541 558h1v1h-1zM538 560h1v1h-1zM534 561h1v1h-1zM530 562h1v1h-1zM526 563h1v1h-1zM522 564h1v1h-1zM518 565h1v1h-1zM515 566h1v1h-1zM510 567h1v1h-1zM507 568h1v1h-1zM503 569h1v1h-1zM499 569h1v1h-1zM495 570h1v1h-1zM491 571h1v1h-1zM487 571h1v1h-1zM483 571h1v1h-1zM479 572h1v1h-1zM475 572h1v1h-1zM471 572h1v1h-1zM467 572h1v1h-1zM463 572h1v1h-1zM459 572h1v1h-1zM455 572h1v1h-1zM451 572h1v1h-1zM447 571h1v1h-1zM443 571h1v1h-1zM439 570h1v1h-1zM435 570h1v1h-1zM431 569h1v1h-1zM427 569h1v1h-1zM423 568h1v1h-1zM419 567h1v1h-1zM415 566h1v1h-1zM412 565h1v1h-1zM408 564h1v1h-1zM404 563h1v1h-1zM400 562h1v1h-1zM396 561h1v1h-1zM392 559h1v1h-1zM389 558h1v1h-1zM385 556h1v1h-1zM381 555h1v1h-1zM378 553h1v1h-1zM374 552h1v1h-1zM370 550h1v1h-1zM367 548h1v1h-1zM363 546h1v1h-1zM360 544h1v1h-1zM356 542h1v1h-1zM353 540h1v1h-1zM349 538h1v1h-1zM346 536h1v1h-1zM343 533h1v1h-1zM340 531h1v1h-1zM336 529h1v1h-1zM333 526h1v1h-1zM330 524h1v1h-1zM327 521h1v1h-1zM324 518h1v1h-1zM321 516h1v1h-1zM318 513h1v1h-1zM315 510h1v1h-1zM313 507h1v1h-1zM310 505h1v1h-1zM307 502h1v1h-1zM305 498h1v1h-1zM302 495h1v1h-1zM300 492h1v1h-1zM297 489h1v1h-1zM295 486h1v1h-1zM292 483h1v1h-1zM290 479h1v1h-1zM288 476h1v1h-1zM286 473h1v1h-1zM284 469h1v1h-1zM282 466h1v1h-1zM280 462h1v1h-1zM278 459h1v1h-1zM276 455h1v1h-1zM275 451h1v1h-1zM273 448h1v1h-1zM271 444h1v1h-1zM270 440h1v1h-1zM268 437h1v1h-1zM267 433h1v1h-1zM266 429h1v1h-1zM265 425h1v1h-1zM264 422h1v1h-1zM263 418h1v1h-1zM261 414h1v1h-1zM261 410h1v1h-1zM260 406h1v1h-1zM259 402h1v1h-1zM258 398h1v1h-1zM258 394h1v1h-1zM257 390h1v1h-1zM257 386h1v1h-1zM257 382h1v1h-1zM256 378h1v1h-1zM256 374h1v1h-1zM256 370h1v1h-1zM256 366h1v1h-1zM256 362h1v1h-1zM256 358h1v1h-1zM256 354h1v1h-1zM257 350h1v1h-1zM257 346h1v1h-1zM258 342h1v1h-1zM258 338h1v1h-1zM259 334h1v1h-1zM259 330h1v1h-1zM260 327h1v1h-1zM261 323h1v1h-1zM262 319h1v1h-1zM263 315h1v1h-1zM264 311h1v1h-1zM265 307h1v1h-1zM267 303h1v1h-1zM268 300h1v1h-1zM269 296h1v1h-1zM271 292h1v1h-1zM272 288h1v1h-1zM274 285h1v1h-1zM275 281h1v1h-1zM277 277h1v1h-1zM279 274h1v1h-1zM281 271h1v1h-1zM283 267h1v1h-1zM285 264h1v1h-1zM287 260h1v1h-1zM289 257h1v1h-1zM291 253h1v1h-1zM294 250h1v1h-1zM296 247h1v1h-1zM298 244h1v1h-1zM301 240h1v1h-1zM304 237h1v1h-1zM306 234h1v1h-1zM309 231h1v1h-1zM312 228h1v1h-1zM314 226h1v1h-1zM317 223h1v1h-1zM320 220h1v1h-1zM323 217h1v1h-1zM326 215h1v1h-1zM329 212h1v1h-1zM332 209h1v1h-1zM335 207h1v1h-1zM338 204h1v1h-1zM342 202h1v1h-1zM345 200h1v1h-1zM348 198h1v1h-1zM352 195h1v1h-1zM355 193h1v1h-1zM358 191h1v1h-1zM362 189h1v1h-1zM366 187h1v1h-1zM369 186h1v1h-1zM373 184h1v1h-1zM376 182h1v1h-1zM380 181h1v1h-1zM384 179h1v1h-1zM387 177h1v1h-1zM391 176h1v1h-1zM395 175h1v1h-1zM398 173h1v1h-1zM402 172h1v1h-1zM406 171h1v1h-1zM410 170h1v1h-1zM414 169h1v1h-1zM418 168h1v1h-1zM422 167h1v1h-1zM426 166h1v1h-1zM429 166h1v1h-1zM433 165h1v1h-1zM437 164h1v1h-1zM441 164h1v1h-1zM445 164h1v1h-1zM449 163h1v1h-1zM453 163h1v1h-1zM457 163h1v1h-1zM461 163h1v1h-1zM465 163h1v1h-1zM466 140h1v1h-1zM470 140h1v1h-1zM474 140h1v1h-1zM478 140h1v1h-1zM482 140h1v1h-1zM486 141h1v1h-1zM490 141h1v1h-1zM494 142h1v1h-1zM498 142h1v1h-1zM502 143h1v1h-1zM506 143h1v1h-1zM510 144h1v1h-1zM514 145h1v1h-1zM518 146h1v1h-1zM521 147h1v1h-1zM525 148h1v1h-1zM529 149h1v1h-1zM533 150h1v1h-1zM537 151h1v1h-1zM541 152h1v1h-1zM545 153h1v1h-1zM548 155h1v1h-1zM552 156h1v1h-1zM556 158h1v1h-1zM559 159h1v1h-1zM563 161h1v1h-1zM567 163h1v1h-1zM570 164h1v1h-1zM574 166h1v1h-1zM577 168h1v1h-1zM581 170h1v1h-1zM584 172h1v1h-1zM588 174h1v1h-1zM591 176h1v1h-1zM595 178h1v1h-1zM598 180h1v1h-1zM601 183h1v1h-1zM604 185h1v1h-1zM608 187h1v1h-1zM611 190h1v1h-1zM614 192h1v1h-1zM617 195h1v1h-1zM620 197h1v1h-1zM623 200h1v1h-1zM626 203h1v1h-1zM629 206h1v1h-1zM632 208h1v1h-1zM634 211h1v1h-1zM637 214h1v1h-1zM640 217h1v1h-1zM643 220h1v1h-1zM645 223h1v1h-1zM648 226h1v1h-1zM650 229h1v1h-1zM653 233h1v1h-1zM655 236h1v1h-1zM657 239h1v1h-1zM659 242h1v1h-1zM662 246h1v1h-1zM664 249h1v1h-1zM666 253h1v1h-1zM668 256h1v1h-1zM670 259h1v1h-1zM672 263h1v1h-1zM674 266h1v1h-1zM675 270h1v1h-1zM677 274h1v1h-1zM679 277h1v1h-1zM680 281h1v1h-1zM682 285h1v1h-1zM683 288h1v1h-1zM685 292h1v1h-1zM686 296h1v1h-1zM687 300h1v1h-1zM689 304h1v1h-1zM690 307h1v1h-1zM691 311h1v1h-1zM692 315h1v1h-1zM693 319h1v1h-1zM693 323h1v1h-1zM694 327h1v1h-1zM695 331h1v1h-1zM695 335h1v1h-1zM696 339h1v1h-1zM696 343h1v1h-1zM697 347h1v1h-1zM697 351h1v1h-1zM697 355h1v1h-1zM698 359h1v1h-1zM698 363h1v1h-1zM698 367h1v1h-1zM698 371h1v1h-1zM698 375h1v1h-1zM698 379h1v1h-1zM697 383h1v1h-1zM697 387h1v1h-1zM697 391h1v1h-1zM696 395h1v1h-1zM696 398h1v1h-1zM695 403h1v1h-1zM694 407h1v1h-1zM694 410h1v1h-1zM693 414h1v1h-1zM692 418h1v1h-1zM691 422h1v1h-1zM690 426h1v1h-1zM689 430h1v1h-1zM688 434h1v1h-1zM686 437h1v1h-1zM685 441h1v1h-1zM684 445h1v1h-1zM682 449h1v1h-1zM681 453h1v1h-1zM679 456h1v1h-1zM678 460h1v1h-1zM676 463h1v1h-1zM674 467h1v1h-1zM672 471h1v1h-1zM671 474h1v1h-1zM669 478h1v1h-1zM667 481h1v1h-1zM665 484h1v1h-1zM663 488h1v1h-1zM660 491h1v1h-1zM658 495h1v1h-1zM656 498h1v1h-1zM653 501h1v1h-1zM651 504h1v1h-1zM648 507h1v1h-1zM646 511h1v1h-1zM643 514h1v1h-1zM641 517h1v1h-1zM638 519h1v1h-1zM635 522h1v1h-1zM632 526h1v1h-1zM630 528h1v1h-1zM627 531h1v1h-1zM624 534h1v1h-1zM621 536h1v1h-1zM618 539h1v1h-1zM615 542h1v1h-1zM612 544h1v1h-1zM609 547h1v1h-1zM605 549h1v1h-1zM602 551h1v1h-1zM599 554h1v1h-1zM596 556h1v1h-1zM592 558h1v1h-1zM589 560h1v1h-1zM585 562h1v1h-1zM582 564h1v1h-1zM578 566h1v1h-1zM575 568h1v1h-1zM571 570h1v1h-1zM568 572h1v1h-1zM564 573h1v1h-1zM561 575h1v1h-1zM557 576h1v1h-1zM553 578h1v1h-1zM549 579h1v1h-1zM546 581h1v1h-1zM542 582h1v1h-1zM538 583h1v1h-1zM534 585h1v1h-1zM530 586h1v1h-1zM527 587h1v1h-1zM523 588h1v1h-1zM519 589h1v1h-1zM515 590h1v1h-1zM511 590h1v1h-1zM507 591h1v1h-1zM503 592h1v1h-1zM499 592h1v1h-1zM495 593h1v1h-1zM491 593h1v1h-1zM487 594h1v1h-1zM483 594h1v1h-1zM479 594h1v1h-1zM475 595h1v1h-1zM471 595h1v1h-1zM467 595h1v1h-1zM463 595h1v1h-1zM459 595h1v1h-1zM455 595h1v1h-1zM451 594h1v1h-1zM447 594h1v1h-1zM443 594h1v1h-1zM439 593h1v1h-1zM435 593h1v1h-1zM431 592h1v1h-1zM427 592h1v1h-1zM423 591h1v1h-1zM419 590h1v1h-1zM416 590h1v1h-1zM412 589h1v1h-1zM408 588h1v1h-1zM404 587h1v1h-1zM400 586h1v1h-1zM396 585h1v1h-1zM392 583h1v1h-1zM388 582h1v1h-1zM385 581h1v1h-1zM381 579h1v1h-1zM377 578h1v1h-1zM374 576h1v1h-1zM370 575h1v1h-1zM366 573h1v1h-1zM363 571h1v1h-1zM359 570h1v1h-1zM355 568h1v1h-1zM352 566h1v1h-1zM348 564h1v1h-1zM345 562h1v1h-1zM342 560h1v1h-1zM338 558h1v1h-1zM335 556h1v1h-1zM332 553h1v1h-1zM328 551h1v1h-1zM325 549h1v1h-1zM322 546h1v1h-1zM319 544h1v1h-1zM316 541h1v1h-1zM313 539h1v1h-1zM310 536h1v1h-1zM307 534h1v1h-1zM304 531h1v1h-1zM301 528h1v1h-1zM298 525h1v1h-1zM295 522h1v1h-1zM293 520h1v1h-1zM290 517h1v1h-1zM287 513h1v1h-1zM284 510h1v1h-1zM282 507h1v1h-1zM280 504h1v1h-1zM277 501h1v1h-1zM275 498h1v1h-1zM273 495h1v1h-1zM270 491h1v1h-1zM268 488h1v1h-1zM266 484h1v1h-1zM264 481h1v1h-1zM262 477h1v1h-1zM260 474h1v1h-1zM258 471h1v1h-1zM256 467h1v1h-1zM255 463h1v1h-1zM253 460h1v1h-1zM251 456h1v1h-1zM250 452h1v1h-1zM248 449h1v1h-1zM247 445h1v1h-1zM245 441h1v1h-1zM244 437h1v1h-1zM243 433h1v1h-1zM242 430h1v1h-1zM241 426h1v1h-1zM240 422h1v1h-1zM239 418h1v1h-1zM238 414h1v1h-1zM237 410h1v1h-1zM236 406h1v1h-1zM236 402h1v1h-1zM235 399h1v1h-1zM234 394h1v1h-1zM234 390h1v1h-1zM234 386h1v1h-1zM233 383h1v1h-1zM233 379h1v1h-1zM233 375h1v1h-1zM233 370h1v1h-1zM233 367h1v1h-1zM233 363h1v1h-1zM233 359h1v1h-1zM233 355h1v1h-1zM233 350h1v1h-1zM234 347h1v1h-1zM234 343h1v1h-1zM235 339h1v1h-1zM235 335h1v1h-1zM236 331h1v1h-1zM237 327h1v1h-1zM237 323h1v1h-1zM238 319h1v1h-1zM239 315h1v1h-1zM240 311h1v1h-1zM241 307h1v1h-1zM242 303h1v1h-1zM243 300h1v1h-1zM245 296h1v1h-1zM246 292h1v1h-1zM247 288h1v1h-1zM249 284h1v1h-1zM250 281h1v1h-1zM252 277h1v1h-1zM253 274h1v1h-1zM255 270h1v1h-1zM257 267h1v1h-1zM259 263h1v1h-1zM261 259h1v1h-1zM263 256h1v1h-1zM265 252h1v1h-1zM267 249h1v1h-1zM269 246h1v1h-1zM271 242h1v1h-1zM273 239h1v1h-1zM276 236h1v1h-1zM278 232h1v1h-1zM281 229h1v1h-1zM283 226h1v1h-1zM286 223h1v1h-1zM288 220h1v1h-1zM291 217h1v1h-1zM293 214h1v1h-1zM296 211h1v1h-1zM299 208h1v1h-1zM302 205h1v1h-1zM305 203h1v1h-1zM308 200h1v1h-1zM311 197h1v1h-1zM314 195h1v1h-1zM317 192h1v1h-1zM320 190h1v1h-1zM323 187h1v1h-1zM326 185h1v1h-1zM330 183h1v1h-1zM333 180h1v1h-1zM336 178h1v1h-1zM340 176h1v1h-1zM343 174h1v1h-1zM346 172h1v1h-1zM350 170h1v1h-1zM353 168h1v1h-1zM357 166h1v1h-1zM361 164h1v1h-1zM364 163h1v1h-1zM368 161h1v1h-1zM371 159h1v1h-1zM375 158h1v1h-1zM379 156h1v1h-1zM383 155h1v1h-1zM386 153h1v1h-1zM390 152h1v1h-1zM394 151h1v1h-1zM398 150h1v1h-1zM402 149h1v1h-1zM405 148h1v1h-1zM409 147h1v1h-1zM413 146h1v1h-1zM417 145h1v1h-1zM421 144h1v1h-1zM425 143h1v1h-1zM429 143h1v1h-1zM433 142h1v1h-1zM437 142h1v1h-1zM441 141h1v1h-1zM445 141h1v1h-1zM449 140h1v1h-1zM453 140h1v1h-1zM457 140h1v1h-1zM461 140h1v1h-1zM465 140h1v1h-1z"/>
<line x1="465.8" y1="367.85" x2="465.80" y2="140.35" stroke="#000" stroke-width="1.1"/>
<line x1="465.8" y1="367.85" x2="554.77" y2="157.67" stroke="#000" stroke-width="1.1"/>
<line x1="465.8" y1="367.85" x2="630.20" y2="206.98" stroke="#000" stroke-width="1.1"/>
<line x1="465.8" y1="367.85" x2="680.60" y2="280.79" stroke="#000" stroke-width="1.1"/>
<line x1="465.8" y1="367.85" x2="698.30" y2="367.85" stroke="#000" stroke-width="1.1"/>
<line x1="465.8" y1="367.85" x2="680.60" y2="454.91" stroke="#000" stroke-width="1.1"/>
<line x1="465.8" y1="367.85" x2="630.20" y2="528.72" stroke="#000" stroke-width="1.1"/>
<line x1="465.8" y1="367.85" x2="554.77" y2="578.03" stroke="#000" stroke-width="1.1"/>
<line x1="465.8" y1="367.85" x2="465.80" y2="595.35" stroke="#000" stroke-width="1.1"/>
<line x1="465.8" y1="367.85" x2="376.83" y2="578.03" stroke="#000" stroke-width="1.1"/>
<line x1="465.8" y1="367.85" x2="301.40" y2="528.72" stroke="#000" stroke-width="1.1"/>
<line x1="465.8" y1="367.85" x2="251.00" y2="454.91" stroke="#000" stroke-width="1.1"/>
<line x1="465.8" y1="367.85" x2="233.30" y2="367.85" stroke="#000" stroke-width="1.1"/>
<line x1="465.8" y1="367.85" x2="251.00" y2="280.79" stroke="#000" stroke-width="1.1"/>
<line x1="465.8" y1="367.85" x2="301.40" y2="206.98" stroke="#000" stroke-width="1.1"/>
<line x1="465.8" y1="367.85" x2="376.83" y2="157.67" stroke="#000" stroke-width="1.1"/>
<rect x="465" y="578" width="2" height="17" fill="#000"/>
<path d="M465.70,367.13 L465.72,367.13 L465.74,367.12 L465.76,367.12 L465.78,367.12 L465.80,367.12 L465.82,367.12 L465.84,367.12 L465.86,367.12 L465.88,367.13 L465.90,367.13 L465.80,367.85 Z" fill="#000000" stroke="#000000" stroke-width="1"/>
<path d="M465.91,367.45 L465.92,367.46 L465.93,367.46 L465.94,367.46 L465.95,367.47 L465.96,367.47 L465.97,367.48 L465.98,367.48 L465.99,367.49 L466.00,367.49 L466.01,367.50 L465.80,367.85 Z" fill="#000000" stroke="#000000" stroke-width="1"/>
<path d="M465.88,367.74 L465.89,367.74 L465.89,367.75 L465.89,367.75 L465.90,367.75 L465.90,367.75 L465.90,367.76 L465.90,367.76 L465.91,367.76 L465.91,367.76 L465.91,367.77 L465.80,367.85 Z" fill="#000000" stroke="#000000" stroke-width="1"/>
<path d="M466.00,367.73 L466.00,367.74 L466.01,367.75 L466.01,367.75 L466.01,367.76 L466.01,367.76 L466.02,367.77 L466.02,367.77 L466.02,367.78 L466.02,367.79 L466.02,367.79 L465.80,367.85 Z" fill="#000000" stroke="#000000" stroke-width="1"/>
<path d="M465.94,367.83 L465.94,367.84 L465.94,367.84 L465.94,367.84 L465.94,367.85 L465.94,367.85 L465.94,367.85 L465.94,367.86 L465.94,367.86 L465.94,367.86 L465.94,367.87 L465.80,367.85 Z" fill="#000000" stroke="#000000" stroke-width="1"/>
<path d="M466.02,367.91 L466.02,367.91 L466.02,367.92 L466.02,367.93 L466.02,367.93 L466.01,367.94 L466.01,367.94 L466.01,367.95 L466.01,367.95 L466.00,367.96 L466.00,367.97 L465.80,367.85 Z" fill="#000000" stroke="#000000" stroke-width="1"/>
<path d="M466.54,368.40 L466.53,368.42 L466.51,368.44 L466.49,368.46 L466.48,368.48 L466.46,368.49 L466.44,368.51 L466.42,368.53 L466.40,368.54 L466.38,368.56 L466.36,368.58 L465.80,367.85 Z" fill="#000000" stroke="#000000" stroke-width="1"/>
<path d="M466.67,369.30 L466.63,369.33 L466.59,369.35 L466.54,369.37 L466.50,369.39 L466.46,369.41 L466.41,369.42 L466.37,369.44 L466.33,369.45 L466.28,369.47 L466.23,369.48 L465.80,367.85 Z" fill="#000000" stroke="#000000" stroke-width="1"/>
<path d="M466.10,369.97 L466.04,369.98 L465.98,369.98 L465.92,369.99 L465.86,369.99 L465.80,369.99 L465.74,369.99 L465.68,369.99 L465.62,369.98 L465.56,369.98 L465.50,369.97 L465.80,367.85 Z" fill="#000000" stroke="#000000" stroke-width="1"/>
<path d="M465.07,370.58 L465.00,370.56 L464.92,370.54 L464.84,370.51 L464.77,370.48 L464.70,370.46 L464.62,370.43 L464.55,370.39 L464.48,370.36 L464.41,370.32 L464.34,370.28 L465.80,367.85 Z" fill="#000000" stroke="#000000" stroke-width="1"/>
<path d="M464.06,370.10 L464.00,370.05 L463.94,370.00 L463.88,369.95 L463.82,369.90 L463.76,369.84 L463.71,369.79 L463.65,369.73 L463.60,369.67 L463.55,369.61 L463.50,369.55 L465.80,367.85 Z" fill="#000000" stroke="#000000" stroke-width="1"/>
<path d="M462.79,369.58 L462.74,369.49 L462.70,369.41 L462.66,369.33 L462.62,369.24 L462.58,369.16 L462.54,369.07 L462.51,368.98 L462.48,368.89 L462.45,368.80 L462.43,368.71 L465.80,367.85 Z" fill="#000000" stroke="#000000" stroke-width="1"/>
<path d="M461.15,368.48 L461.13,368.35 L461.12,368.23 L461.11,368.10 L461.11,367.98 L461.10,367.85 L461.11,367.72 L461.11,367.60 L461.12,367.47 L461.13,367.35 L461.15,367.22 L465.80,367.85 Z" fill="#000000" stroke="#000000" stroke-width="1"/>
<path d="M461.21,366.68 L461.25,366.56 L461.28,366.43 L461.32,366.31 L461.37,366.19 L461.42,366.07 L461.47,365.96 L461.52,365.84 L461.58,365.73 L461.64,365.61 L461.71,365.50 L465.80,367.85 Z" fill="#000000" stroke="#000000" stroke-width="1"/>
<path d="M461.61,364.75 L461.70,364.64 L461.79,364.53 L461.89,364.42 L461.98,364.32 L462.08,364.21 L462.19,364.12 L462.29,364.02 L462.40,363.93 L462.51,363.84 L462.63,363.75 L465.80,367.85 Z" fill="#000000" stroke="#000000" stroke-width="1"/>
<path d="M464.53,365.73 L464.59,365.70 L464.65,365.67 L464.71,365.64 L464.78,365.61 L464.84,365.58 L464.90,365.56 L464.97,365.53 L465.03,365.51 L465.10,365.49 L465.17,365.47 L465.80,367.85 Z" fill="#000000" stroke="#000000" stroke-width="1"/>
<path d="M467.47,369.09 L467.43,369.13 L467.40,369.17 L467.36,369.22 L467.32,369.26 L467.28,369.30 L467.24,369.34 L467.20,369.38 L467.15,369.41 L467.11,369.45 L467.06,369.48 L466.36,368.58 L466.38,368.56 L466.40,368.54 L466.42,368.53 L466.44,368.51 L466.46,368.49 L466.48,368.48 L466.49,368.46 L466.51,368.44 L466.53,368.42 L466.54,368.40 Z" fill="#0000ff" stroke="#0000ff" stroke-width="1"/>
<path d="M467.33,370.40 L467.26,370.44 L467.18,370.48 L467.11,370.52 L467.03,370.55 L466.96,370.58 L466.88,370.61 L466.80,370.64 L466.72,370.67 L466.64,370.69 L466.56,370.71 L466.23,369.48 L466.28,369.47 L466.33,369.45 L466.37,369.44 L466.41,369.42 L466.46,369.41 L466.50,369.39 L466.54,369.37 L466.59,369.35 L466.63,369.33 L466.67,369.30 Z" fill="#0000ff" stroke="#0000ff" stroke-width="1"/>
<path d="M466.25,371.00 L466.16,371.02 L466.07,371.02 L465.98,371.03 L465.89,371.03 L465.80,371.04 L465.71,371.03 L465.62,371.03 L465.53,371.02 L465.44,371.02 L465.35,371.00 L465.50,369.97 L465.56,369.98 L465.62,369.98 L465.68,369.99 L465.74,369.99 L465.80,369.99 L465.86,369.99 L465.92,369.99 L465.98,369.98 L466.04,369.98 L466.10,369.97 Z" fill="#0000ff" stroke="#0000ff" stroke-width="1"/>
<path d="M464.68,372.03 L464.57,372.00 L464.45,371.97 L464.34,371.93 L464.22,371.89 L464.11,371.84 L464.00,371.80 L463.89,371.75 L463.78,371.69 L463.67,371.64 L463.57,371.58 L464.34,370.28 L464.41,370.32 L464.48,370.36 L464.55,370.39 L464.62,370.43 L464.70,370.46 L464.77,370.48 L464.84,370.51 L464.92,370.54 L465.00,370.56 L465.07,370.58 Z" fill="#0000ff" stroke="#0000ff" stroke-width="1"/>
<path d="M462.71,371.84 L462.60,371.76 L462.49,371.67 L462.39,371.58 L462.28,371.49 L462.18,371.39 L462.09,371.29 L461.99,371.19 L461.90,371.09 L461.81,370.98 L461.72,370.87 L463.50,369.55 L463.55,369.61 L463.60,369.67 L463.65,369.73 L463.71,369.79 L463.76,369.84 L463.82,369.90 L463.88,369.95 L463.94,370.00 L464.00,370.05 L464.06,370.10 Z" fill="#0000ff" stroke="#0000ff" stroke-width="1"/>
<path d="M457.54,372.59 L457.41,372.37 L457.28,372.14 L457.16,371.91 L457.05,371.67 L456.95,371.44 L456.85,371.20 L456.76,370.96 L456.68,370.71 L456.60,370.46 L456.53,370.22 L462.43,368.71 L462.45,368.80 L462.48,368.89 L462.51,368.98 L462.54,369.07 L462.58,369.16 L462.62,369.24 L462.66,369.33 L462.70,369.41 L462.74,369.49 L462.79,369.58 Z" fill="#0000ff" stroke="#0000ff" stroke-width="1"/>
<path d="M450.32,369.94 L450.27,369.53 L450.23,369.11 L450.20,368.69 L450.18,368.27 L450.18,367.85 L450.18,367.43 L450.20,367.01 L450.23,366.59 L450.27,366.17 L450.32,365.76 L461.15,367.22 L461.13,367.35 L461.12,367.47 L461.11,367.60 L461.11,367.72 L461.10,367.85 L461.11,367.98 L461.11,368.10 L461.12,368.23 L461.13,368.35 L461.15,368.48 Z" fill="#0000ff" stroke="#0000ff" stroke-width="1"/>
<path d="M438.40,360.85 L438.61,360.12 L438.83,359.39 L439.08,358.67 L439.35,357.95 L439.64,357.25 L439.94,356.55 L440.27,355.86 L440.62,355.17 L440.98,354.50 L441.37,353.84 L461.71,365.50 L461.64,365.61 L461.58,365.73 L461.52,365.84 L461.47,365.96 L461.42,366.07 L461.37,366.19 L461.32,366.31 L461.28,366.43 L461.25,366.56 L461.21,366.68 Z" fill="#0000ff" stroke="#0000ff" stroke-width="1"/>
<path d="M434.25,344.48 L434.92,343.64 L435.61,342.82 L436.32,342.02 L437.06,341.23 L437.82,340.47 L438.60,339.73 L439.40,339.01 L440.22,338.31 L441.06,337.63 L441.92,336.98 L462.63,363.75 L462.51,363.84 L462.40,363.93 L462.29,364.02 L462.19,364.12 L462.08,364.21 L461.98,364.32 L461.89,364.42 L461.79,364.53 L461.70,364.64 L461.61,364.75 Z" fill="#0000ff" stroke="#0000ff" stroke-width="1"/>
<path d="M456.63,352.54 L457.06,352.30 L457.50,352.07 L457.95,351.85 L458.40,351.65 L458.86,351.46 L459.32,351.28 L459.79,351.11 L460.26,350.95 L460.74,350.81 L461.22,350.68 L465.17,365.47 L465.10,365.49 L465.03,365.51 L464.97,365.53 L464.90,365.56 L464.84,365.58 L464.78,365.61 L464.71,365.64 L464.65,365.67 L464.59,365.70 L464.53,365.73 Z" fill="#0000ff" stroke="#0000ff" stroke-width="1"/>
<path d="M411.81,354.06 L412.22,352.62 L412.66,351.18 L413.15,349.76 L413.68,348.35 L414.25,346.96 L414.85,345.58 L415.50,344.22 L416.18,342.87 L416.90,341.55 L417.66,340.24 L441.37,353.84 L440.98,354.50 L440.62,355.17 L440.27,355.86 L439.94,356.55 L439.64,357.25 L439.35,357.95 L439.08,358.67 L438.83,359.39 L438.61,360.12 L438.40,360.85 Z" fill="#00ff00" stroke="#00ff00" stroke-width="1"/>
<path d="M380.82,304.91 L382.62,302.65 L384.49,300.43 L386.41,298.27 L388.40,296.16 L390.44,294.11 L392.54,292.11 L394.69,290.17 L396.90,288.28 L399.16,286.46 L401.47,284.70 L441.92,336.98 L441.06,337.63 L440.22,338.31 L439.40,339.01 L438.60,339.73 L437.82,340.47 L437.06,341.23 L436.32,342.02 L435.61,342.82 L434.92,343.64 L434.25,344.48 Z" fill="#00ff00" stroke="#00ff00" stroke-width="1"/>
<path d="M430.86,309.52 L432.51,308.60 L434.19,307.73 L435.89,306.90 L437.61,306.12 L439.36,305.38 L441.12,304.70 L442.90,304.06 L444.71,303.46 L446.52,302.92 L448.35,302.43 L461.22,350.68 L460.74,350.81 L460.26,350.95 L459.79,351.11 L459.32,351.28 L458.86,351.46 L458.40,351.65 L457.95,351.85 L457.50,352.07 L457.06,352.30 L456.63,352.54 Z" fill="#00ff00" stroke="#00ff00" stroke-width="1"/>
<path d="M403.71,352.00 L404.18,350.33 L404.69,348.68 L405.25,347.05 L405.86,345.42 L406.51,343.82 L407.21,342.24 L407.95,340.67 L408.74,339.12 L409.57,337.60 L410.44,336.10 L417.66,340.24 L416.90,341.55 L416.18,342.87 L415.50,344.22 L414.85,345.58 L414.25,346.96 L413.68,348.35 L413.15,349.76 L412.66,351.18 L412.22,352.62 L411.81,354.06 Z" fill="#ff0000" stroke="#ff0000" stroke-width="1"/>
<path d="M323.54,262.48 L326.56,258.69 L329.67,254.99 L332.90,251.37 L336.22,247.84 L339.64,244.40 L343.15,241.05 L346.76,237.80 L350.46,234.65 L354.24,231.60 L358.11,228.65 L401.47,284.70 L399.16,286.46 L396.90,288.28 L394.69,290.17 L392.54,292.11 L390.44,294.11 L388.40,296.16 L386.41,298.27 L384.49,300.43 L382.62,302.65 L380.82,304.91 Z" fill="#ff0000" stroke="#ff0000" stroke-width="1"/>
<path d="M398.69,255.82 L401.87,254.06 L405.09,252.38 L408.35,250.79 L411.66,249.29 L415.01,247.88 L418.40,246.56 L421.83,245.33 L425.29,244.19 L428.77,243.15 L432.29,242.20 L448.35,302.43 L446.52,302.92 L444.71,303.46 L442.90,304.06 L441.12,304.70 L439.36,305.38 L437.61,306.12 L435.89,306.90 L434.19,307.73 L432.51,308.60 L430.86,309.52 Z" fill="#ff0000" stroke="#ff0000" stroke-width="1"/>
<path d="M305.93,249.43 L309.32,245.18 L312.82,241.02 L316.44,236.95 L320.18,232.98 L324.02,229.12 L327.97,225.36 L332.02,221.70 L336.18,218.16 L340.43,214.73 L344.78,211.42 L358.11,228.65 L354.24,231.60 L350.46,234.65 L346.76,237.80 L343.15,241.05 L339.64,244.40 L336.22,247.84 L332.90,251.37 L329.67,254.99 L326.56,258.69 L323.54,262.48 Z" fill="#00ffff" stroke="#00ffff" stroke-width="1"/>
<path d="M391.95,244.55 L395.44,242.61 L398.98,240.77 L402.58,239.02 L406.22,237.37 L409.91,235.81 L413.64,234.36 L417.41,233.01 L421.21,231.76 L425.05,230.61 L428.92,229.57 L432.29,242.20 L428.77,243.15 L425.29,244.19 L421.83,245.33 L418.40,246.56 L415.01,247.88 L411.66,249.29 L408.35,250.79 L405.09,252.38 L401.87,254.06 L398.69,255.82 Z" fill="#00ffff" stroke="#00ffff" stroke-width="1"/>
<ellipse cx="465.6" cy="368.3" rx="3.4" ry="3.3" fill="#000"/>
<path d="M126.00,117.30 Q140.10,116.50 154.20,117.30 L151.81,152.10 Q140.10,151.30 128.39,152.10 Z" fill="#ff00ff" stroke="#000" stroke-width="1.1" stroke-linejoin="round"/>
<path d="M128.39,152.10 Q140.10,151.30 151.81,152.10 L149.48,186.00 Q140.10,185.20 130.72,186.00 Z" fill="#00ffff" stroke="#000" stroke-width="1.1" stroke-linejoin="round"/>
<path d="M130.72,186.00 Q140.10,185.20 149.48,186.00 L147.13,220.30 Q140.10,219.50 133.07,220.30 Z" fill="#ff0000" stroke="#000" stroke-width="1.1" stroke-linejoin="round"/>
<path d="M133.07,220.30 Q140.10,219.50 147.13,220.30 L144.78,254.50 Q140.10,253.70 135.42,254.50 Z" fill="#00ff00" stroke="#000" stroke-width="1.1" stroke-linejoin="round"/>
<path d="M135.42,254.50 Q140.10,253.70 144.78,254.50 L142.42,288.90 Q140.10,288.10 137.78,288.90 Z" fill="#0000ff" stroke="#000" stroke-width="1.1" stroke-linejoin="round"/>
<path d="M137.78,288.90 Q140.10,288.10 142.42,288.90 L140.10,322.70 Z" fill="#000000" stroke="#000" stroke-width="1.1" stroke-linejoin="round"/></g>
<g><rect x="117" y="822" width="698" height="1" fill="#000"/>
<rect x="117" y="822" width="1" height="512" fill="#000"/>
<rect x="814" y="822" width="1" height="512" fill="#000"/>
<rect x="116" y="865" width="699" height="1" fill="#77ac30"/>
<rect x="116" y="908" width="699" height="1" fill="#7e2f8e"/>
<rect x="116" y="950" width="699" height="1" fill="#edb120"/>
<rect x="116" y="993" width="699" height="1" fill="#d95319"/>
<rect x="116" y="1036" width="699" height="1" fill="#0072bd"/>
<rect x="116" y="1078" width="699" height="1" fill="#a2142f"/>
<rect x="116" y="1121" width="699" height="1" fill="#4dbeee"/>
<rect x="116" y="1164" width="699" height="1" fill="#77ac30"/>
<rect x="116" y="1206" width="699" height="1" fill="#7e2f8e"/>
<rect x="116" y="1249" width="699" height="1" fill="#edb120"/>
<rect x="116" y="1292" width="699" height="1" fill="#d95319"/>
<rect x="116" y="1334" width="699" height="1" fill="#0072bd"/>
<rect x="116" y="823" width="1" height="511" fill="#4dbeee"/>
<rect x="157" y="823" width="2" height="511" fill="#a2142f"/>
<rect x="199" y="823" width="1" height="511" fill="#0072bd"/>
<rect x="240" y="823" width="1" height="511" fill="#d95319"/>
<rect x="281" y="823" width="1" height="511" fill="#edb120"/>
<rect x="322" y="823" width="1" height="511" fill="#7e2f8e"/>
<rect x="363" y="823" width="1" height="511" fill="#77ac30"/>
<rect x="404" y="823" width="1" height="511" fill="#4dbeee"/>
<rect x="445" y="823" width="1" height="511" fill="#a2142f"/>
<rect x="486" y="823" width="1" height="511" fill="#0072bd"/>
<rect x="527" y="823" width="1" height="511" fill="#d95319"/>
<rect x="568" y="823" width="1" height="511" fill="#edb120"/>
<rect x="609" y="823" width="1" height="511" fill="#7e2f8e"/>
<rect x="650" y="823" width="1" height="511" fill="#77ac30"/>
<rect x="691" y="823" width="1" height="511" fill="#4dbeee"/>
<rect x="732" y="823" width="1" height="511" fill="#a2142f"/>
<rect x="773" y="823" width="1" height="511" fill="#0072bd"/>
<rect x="116" y="1334" width="700" height="1" fill="#0072bd"/></g>
<g fill="#000"><circle cx="219.70" cy="855.07" r="2.45"/>
<circle cx="260.76" cy="855.07" r="2.45"/>
<circle cx="383.94" cy="855.07" r="2.45"/>
<circle cx="466.06" cy="855.07" r="2.45"/>
<circle cx="671.36" cy="855.07" r="2.45"/>
<circle cx="260.76" cy="940.40" r="2.45"/>
<circle cx="301.82" cy="940.40" r="2.45"/>
<circle cx="219.70" cy="983.07" r="2.45"/>
<circle cx="260.76" cy="983.07" r="2.45"/>
<circle cx="301.82" cy="983.07" r="2.45"/>
<circle cx="342.88" cy="983.07" r="2.45"/>
<circle cx="383.94" cy="983.07" r="2.45"/>
<circle cx="137.58" cy="1025.74" r="2.45"/>
<circle cx="178.64" cy="1025.74" r="2.45"/>
<circle cx="219.70" cy="1025.74" r="2.45"/>
<circle cx="260.76" cy="1025.74" r="2.45"/>
<circle cx="301.82" cy="1025.74" r="2.45"/>
<circle cx="342.88" cy="1025.74" r="2.45"/>
<circle cx="383.94" cy="1025.74" r="2.45"/>
<circle cx="425.00" cy="1025.74" r="2.45"/>
<circle cx="466.06" cy="1025.74" r="2.45"/>
<circle cx="507.12" cy="1025.74" r="2.45"/>
<circle cx="548.18" cy="1025.74" r="2.45"/>
<circle cx="589.24" cy="1025.74" r="2.45"/>
<circle cx="630.30" cy="1025.74" r="2.45"/>
<circle cx="137.58" cy="1068.40" r="2.45"/>
<circle cx="178.64" cy="1068.40" r="2.45"/>
<circle cx="219.70" cy="1068.40" r="2.45"/>
<circle cx="260.76" cy="1068.40" r="2.45"/>
<circle cx="301.82" cy="1068.40" r="2.45"/>
<circle cx="342.88" cy="1068.40" r="2.45"/>
<circle cx="383.94" cy="1068.40" r="2.45"/>
<circle cx="425.00" cy="1068.40" r="2.45"/>
<circle cx="466.06" cy="1068.40" r="2.45"/>
<circle cx="507.12" cy="1068.40" r="2.45"/>
<circle cx="548.18" cy="1068.40" r="2.45"/>
<circle cx="589.24" cy="1068.40" r="2.45"/>
<circle cx="630.30" cy="1068.40" r="2.45"/>
<circle cx="137.58" cy="1111.07" r="2.45"/>
<circle cx="178.64" cy="1111.07" r="2.45"/>
<circle cx="219.70" cy="1111.07" r="2.45"/>
<circle cx="260.76" cy="1111.07" r="2.45"/>
<circle cx="301.82" cy="1111.07" r="2.45"/>
<circle cx="342.88" cy="1111.07" r="2.45"/>
<circle cx="383.94" cy="1111.07" r="2.45"/>
<circle cx="425.00" cy="1111.07" r="2.45"/>
<circle cx="466.06" cy="1111.07" r="2.45"/>
<circle cx="507.12" cy="1111.07" r="2.45"/>
<circle cx="548.18" cy="1111.07" r="2.45"/>
<circle cx="589.24" cy="1111.07" r="2.45"/>
<circle cx="630.30" cy="1111.07" r="2.45"/>
<circle cx="671.36" cy="1111.07" r="2.45"/>
<circle cx="137.58" cy="1153.74" r="2.45"/>
<circle cx="178.64" cy="1153.74" r="2.45"/>
<circle cx="219.70" cy="1153.74" r="2.45"/>
<circle cx="260.76" cy="1153.74" r="2.45"/>
<circle cx="301.82" cy="1153.74" r="2.45"/>
<circle cx="342.88" cy="1153.74" r="2.45"/>
<circle cx="383.94" cy="1153.74" r="2.45"/>
<circle cx="425.00" cy="1153.74" r="2.45"/>
<circle cx="466.06" cy="1153.74" r="2.45"/>
<circle cx="507.12" cy="1153.74" r="2.45"/>
<circle cx="548.18" cy="1153.74" r="2.45"/>
<circle cx="589.24" cy="1153.74" r="2.45"/>
<circle cx="630.30" cy="1153.74" r="2.45"/>
<circle cx="671.36" cy="1153.74" r="2.45"/>
<circle cx="712.42" cy="1153.74" r="2.45"/>
<circle cx="753.48" cy="1153.74" r="2.45"/>
<circle cx="794.54" cy="1153.74" r="2.45"/>
<circle cx="137.58" cy="1196.40" r="2.45"/>
<circle cx="178.64" cy="1196.40" r="2.45"/>
<circle cx="219.70" cy="1196.40" r="2.45"/>
<circle cx="260.76" cy="1196.40" r="2.45"/>
<circle cx="301.82" cy="1196.40" r="2.45"/>
<circle cx="342.88" cy="1196.40" r="2.45"/>
<circle cx="383.94" cy="1196.40" r="2.45"/>
<circle cx="425.00" cy="1196.40" r="2.45"/>
<circle cx="466.06" cy="1196.40" r="2.45"/>
<circle cx="507.12" cy="1196.40" r="2.45"/>
<circle cx="548.18" cy="1196.40" r="2.45"/>
<circle cx="589.24" cy="1196.40" r="2.45"/>
<circle cx="630.30" cy="1196.40" r="2.45"/>
<circle cx="671.36" cy="1196.40" r="2.45"/>
<circle cx="712.42" cy="1196.40" r="2.45"/>
<circle cx="753.48" cy="1196.40" r="2.45"/>
<circle cx="794.54" cy="1196.40" r="2.45"/>
<circle cx="137.58" cy="1239.07" r="2.45"/>
<circle cx="178.64" cy="1239.07" r="2.45"/>
<circle cx="219.70" cy="1239.07" r="2.45"/>
<circle cx="260.76" cy="1239.07" r="2.45"/>
<circle cx="301.82" cy="1239.07" r="2.45"/>
<circle cx="342.88" cy="1239.07" r="2.45"/>
<circle cx="383.94" cy="1239.07" r="2.45"/>
<circle cx="425.00" cy="1239.07" r="2.45"/>
<circle cx="466.06" cy="1239.07" r="2.45"/>
<circle cx="507.12" cy="1239.07" r="2.45"/>
<circle cx="548.18" cy="1239.07" r="2.45"/>
<circle cx="589.24" cy="1239.07" r="2.45"/>
<circle cx="630.30" cy="1239.07" r="2.45"/>
<circle cx="671.36" cy="1239.07" r="2.45"/>
<circle cx="712.42" cy="1239.07" r="2.45"/>
<circle cx="753.48" cy="1239.07" r="2.45"/>
<circle cx="794.54" cy="1239.07" r="2.45"/>
<circle cx="137.58" cy="1281.74" r="2.45"/>
<circle cx="178.64" cy="1281.74" r="2.45"/>
<circle cx="219.70" cy="1281.74" r="2.45"/>
<circle cx="260.76" cy="1281.74" r="2.45"/>
<circle cx="301.82" cy="1281.74" r="2.45"/>
<circle cx="342.88" cy="1281.74" r="2.45"/>
<circle cx="383.94" cy="1281.74" r="2.45"/>
<circle cx="425.00" cy="1281.74" r="2.45"/>
<circle cx="466.06" cy="1281.74" r="2.45"/>
<circle cx="507.12" cy="1281.74" r="2.45"/>
<circle cx="548.18" cy="1281.74" r="2.45"/>
<circle cx="589.24" cy="1281.74" r="2.45"/>
<circle cx="630.30" cy="1281.74" r="2.45"/>
<circle cx="671.36" cy="1281.74" r="2.45"/>
<circle cx="712.42" cy="1281.74" r="2.45"/>
<circle cx="753.48" cy="1281.74" r="2.45"/>
<circle cx="794.54" cy="1281.74" r="2.45"/></g>
<g font-family="Liberation Sans, sans-serif" fill="#000"><text x="120.38" y="106.00" font-size="17.73" font-weight="bold" textLength="691.17" lengthAdjust="spacingAndGlyphs">Even Keel Wind Project Climatological Wind Rose for August: 1979 - 2015</text>
<text x="458.24" y="134.70" font-size="21.80" textLength="15.51" lengthAdjust="spacingAndGlyphs">N</text>
<text x="459.12" y="615.80" font-size="21.80" textLength="12.86" lengthAdjust="spacingAndGlyphs">S</text>
<text x="212.71" y="375.80" font-size="21.80" textLength="19.36" lengthAdjust="spacingAndGlyphs">W</text>
<text x="699.52" y="375.80" font-size="21.80" textLength="12.06" lengthAdjust="spacingAndGlyphs">E</text>
<text x="264.15" y="202.00" font-size="21.80" textLength="35.63" lengthAdjust="spacingAndGlyphs">NW</text>
<text x="631.10" y="202.00" font-size="21.80" textLength="28.79" lengthAdjust="spacingAndGlyphs">NE</text>
<text x="267.08" y="548.70" font-size="21.80" textLength="32.69" lengthAdjust="spacingAndGlyphs">SW</text>
<text x="631.02" y="548.70" font-size="21.80" textLength="25.81" lengthAdjust="spacingAndGlyphs">SE</text>
<text x="555.03" y="153.40" font-size="14.53" textLength="137.01" lengthAdjust="spacingAndGlyphs">50% (interval: 5%)</text>
<text x="636.83" y="620.80" font-size="11.19" textLength="169.81" lengthAdjust="spacingAndGlyphs">Plotted at 12-Mar-2024 13:54:54</text>
<text x="160.06" y="139.80" font-size="13.52" textLength="48.78" lengthAdjust="spacingAndGlyphs">&gt;25 kts</text>
<text x="160.09" y="174.00" font-size="13.52" textLength="58.43" lengthAdjust="spacingAndGlyphs">20-25 kts</text>
<text x="159.71" y="208.20" font-size="13.52" textLength="59.01" lengthAdjust="spacingAndGlyphs">15-20 kts</text>
<text x="159.71" y="242.20" font-size="13.52" textLength="59.01" lengthAdjust="spacingAndGlyphs">10-15 kts</text>
<text x="160.23" y="276.20" font-size="13.52" textLength="50.48" lengthAdjust="spacingAndGlyphs">5-10 kts</text>
<text x="160.25" y="310.30" font-size="13.52" textLength="42.46" lengthAdjust="spacingAndGlyphs">0-5 kts</text>
<text x="262.43" y="753.90" font-size="21.80" font-weight="bold" textLength="404.51" lengthAdjust="spacingAndGlyphs">Joint Frequency Distribution Table</text>
<text x="133.43" y="817.00" font-size="13.67" textLength="9.20" lengthAdjust="spacingAndGlyphs">N</text>
<text x="165.58" y="817.00" font-size="13.67" textLength="26.95" lengthAdjust="spacingAndGlyphs">NNE</text>
<text x="211.50" y="817.00" font-size="13.67" textLength="17.26" lengthAdjust="spacingAndGlyphs">NE</text>
<text x="248.49" y="817.00" font-size="13.67" textLength="25.40" lengthAdjust="spacingAndGlyphs">ENE</text>
<text x="298.54" y="817.00" font-size="13.67" textLength="7.46" lengthAdjust="spacingAndGlyphs">E</text>
<text x="331.37" y="817.00" font-size="13.67" textLength="23.89" lengthAdjust="spacingAndGlyphs">ESE</text>
<text x="376.54" y="817.00" font-size="13.67" textLength="15.70" lengthAdjust="spacingAndGlyphs">SE</text>
<text x="413.49" y="817.00" font-size="13.67" textLength="23.91" lengthAdjust="spacingAndGlyphs">SSE</text>
<text x="462.74" y="817.00" font-size="13.67" textLength="7.67" lengthAdjust="spacingAndGlyphs">S</text>
<text x="493.29" y="817.00" font-size="13.67" textLength="28.47" lengthAdjust="spacingAndGlyphs">SSW</text>
<text x="538.44" y="817.00" font-size="13.67" textLength="20.29" lengthAdjust="spacingAndGlyphs">SW</text>
<text x="573.21" y="817.00" font-size="13.67" textLength="32.95" lengthAdjust="spacingAndGlyphs">WSW</text>
<text x="624.74" y="817.00" font-size="13.67" textLength="12.00" lengthAdjust="spacingAndGlyphs">W</text>
<text x="654.60" y="817.00" font-size="13.67" textLength="34.41" lengthAdjust="spacingAndGlyphs">WNW</text>
<text x="701.86" y="817.00" font-size="13.67" textLength="21.84" lengthAdjust="spacingAndGlyphs">NW</text>
<text x="738.09" y="817.00" font-size="13.67" textLength="31.49" lengthAdjust="spacingAndGlyphs">NNW</text>
<text x="778.46" y="817.00" font-size="13.67" textLength="32.45" lengthAdjust="spacingAndGlyphs">Total</text>
<text x="123.95" y="859.87" font-size="13.67" textLength="28.27" lengthAdjust="spacingAndGlyphs">0.06</text>
<text x="165.02" y="859.87" font-size="13.67" textLength="27.94" lengthAdjust="spacingAndGlyphs">0.01</text>
<text x="288.20" y="859.87" font-size="13.67" textLength="27.94" lengthAdjust="spacingAndGlyphs">0.01</text>
<text x="329.26" y="859.87" font-size="13.67" textLength="27.94" lengthAdjust="spacingAndGlyphs">0.01</text>
<text x="411.38" y="859.87" font-size="13.67" textLength="27.86" lengthAdjust="spacingAndGlyphs">0.02</text>
<text x="493.50" y="859.87" font-size="13.67" textLength="27.86" lengthAdjust="spacingAndGlyphs">0.02</text>
<text x="534.56" y="859.87" font-size="13.67" textLength="27.94" lengthAdjust="spacingAndGlyphs">0.01</text>
<text x="575.62" y="859.87" font-size="13.67" textLength="27.94" lengthAdjust="spacingAndGlyphs">0.01</text>
<text x="616.68" y="859.87" font-size="13.67" textLength="27.94" lengthAdjust="spacingAndGlyphs">0.01</text>
<text x="698.80" y="859.87" font-size="13.67" textLength="27.94" lengthAdjust="spacingAndGlyphs">0.01</text>
<text x="739.86" y="859.87" font-size="13.67" textLength="27.94" lengthAdjust="spacingAndGlyphs">0.01</text>
<text x="780.91" y="859.87" font-size="13.67" textLength="28.15" lengthAdjust="spacingAndGlyphs">0.20</text>
<text x="123.95" y="902.53" font-size="13.67" textLength="28.27" lengthAdjust="spacingAndGlyphs">0.16</text>
<text x="165.01" y="902.53" font-size="13.67" textLength="28.22" lengthAdjust="spacingAndGlyphs">0.09</text>
<text x="206.08" y="902.53" font-size="13.67" textLength="28.03" lengthAdjust="spacingAndGlyphs">0.03</text>
<text x="247.14" y="902.53" font-size="13.67" textLength="27.91" lengthAdjust="spacingAndGlyphs">0.05</text>
<text x="288.20" y="902.53" font-size="13.67" textLength="28.03" lengthAdjust="spacingAndGlyphs">0.03</text>
<text x="329.26" y="902.53" font-size="13.67" textLength="27.91" lengthAdjust="spacingAndGlyphs">0.05</text>
<text x="370.31" y="902.53" font-size="13.67" textLength="28.15" lengthAdjust="spacingAndGlyphs">0.20</text>
<text x="411.38" y="902.53" font-size="13.67" textLength="28.06" lengthAdjust="spacingAndGlyphs">0.37</text>
<text x="452.44" y="902.53" font-size="13.67" textLength="28.06" lengthAdjust="spacingAndGlyphs">0.47</text>
<text x="493.50" y="902.53" font-size="13.67" textLength="27.86" lengthAdjust="spacingAndGlyphs">0.62</text>
<text x="534.56" y="902.53" font-size="13.67" textLength="27.86" lengthAdjust="spacingAndGlyphs">0.62</text>
<text x="575.62" y="902.53" font-size="13.67" textLength="27.91" lengthAdjust="spacingAndGlyphs">0.75</text>
<text x="616.71" y="902.53" font-size="13.67" textLength="27.91" lengthAdjust="spacingAndGlyphs">1.01</text>
<text x="657.78" y="902.53" font-size="13.67" textLength="27.82" lengthAdjust="spacingAndGlyphs">1.02</text>
<text x="698.83" y="902.53" font-size="13.67" textLength="28.00" lengthAdjust="spacingAndGlyphs">1.13</text>
<text x="739.85" y="902.53" font-size="13.67" textLength="28.14" lengthAdjust="spacingAndGlyphs">0.54</text>
<text x="780.95" y="902.53" font-size="13.67" textLength="27.87" lengthAdjust="spacingAndGlyphs">7.15</text>
<text x="123.96" y="945.20" font-size="13.67" textLength="27.91" lengthAdjust="spacingAndGlyphs">0.15</text>
<text x="165.02" y="945.20" font-size="13.67" textLength="27.94" lengthAdjust="spacingAndGlyphs">0.01</text>
<text x="206.08" y="945.20" font-size="13.67" textLength="27.94" lengthAdjust="spacingAndGlyphs">0.01</text>
<text x="329.25" y="945.20" font-size="13.67" textLength="28.27" lengthAdjust="spacingAndGlyphs">0.06</text>
<text x="370.32" y="945.20" font-size="13.67" textLength="27.91" lengthAdjust="spacingAndGlyphs">0.25</text>
<text x="411.37" y="945.20" font-size="13.67" textLength="28.19" lengthAdjust="spacingAndGlyphs">0.28</text>
<text x="452.44" y="945.20" font-size="13.67" textLength="28.03" lengthAdjust="spacingAndGlyphs">0.23</text>
<text x="493.50" y="945.20" font-size="13.67" textLength="28.03" lengthAdjust="spacingAndGlyphs">0.33</text>
<text x="534.55" y="945.20" font-size="13.67" textLength="28.19" lengthAdjust="spacingAndGlyphs">0.48</text>
<text x="575.65" y="945.20" font-size="13.67" textLength="27.91" lengthAdjust="spacingAndGlyphs">1.31</text>
<text x="616.61" y="945.20" font-size="13.67" textLength="27.98" lengthAdjust="spacingAndGlyphs">2.35</text>
<text x="657.87" y="945.20" font-size="13.67" textLength="27.92" lengthAdjust="spacingAndGlyphs">5.07</text>
<text x="698.83" y="945.20" font-size="13.67" textLength="28.15" lengthAdjust="spacingAndGlyphs">7.38</text>
<text x="740.00" y="945.20" font-size="13.67" textLength="28.11" lengthAdjust="spacingAndGlyphs">3.36</text>
<text x="776.74" y="945.20" font-size="13.67" textLength="36.47" lengthAdjust="spacingAndGlyphs">21.28</text>
<text x="123.96" y="987.87" font-size="13.67" textLength="27.91" lengthAdjust="spacingAndGlyphs">0.15</text>
<text x="165.02" y="987.87" font-size="13.67" textLength="27.94" lengthAdjust="spacingAndGlyphs">0.01</text>
<text x="411.38" y="987.87" font-size="13.67" textLength="27.94" lengthAdjust="spacingAndGlyphs">0.01</text>
<text x="452.44" y="987.87" font-size="13.67" textLength="28.03" lengthAdjust="spacingAndGlyphs">0.03</text>
<text x="493.49" y="987.87" font-size="13.67" textLength="28.27" lengthAdjust="spacingAndGlyphs">0.06</text>
<text x="534.55" y="987.87" font-size="13.67" textLength="28.27" lengthAdjust="spacingAndGlyphs">0.06</text>
<text x="575.62" y="987.87" font-size="13.67" textLength="27.86" lengthAdjust="spacingAndGlyphs">0.12</text>
<text x="616.68" y="987.87" font-size="13.67" textLength="27.94" lengthAdjust="spacingAndGlyphs">0.81</text>
<text x="657.87" y="987.87" font-size="13.67" textLength="27.81" lengthAdjust="spacingAndGlyphs">5.91</text>
<text x="694.72" y="987.87" font-size="13.67" textLength="36.13" lengthAdjust="spacingAndGlyphs">14.41</text>
<text x="735.77" y="987.87" font-size="13.67" textLength="36.45" lengthAdjust="spacingAndGlyphs">10.96</text>
<text x="776.96" y="987.87" font-size="13.67" textLength="35.92" lengthAdjust="spacingAndGlyphs">32.52</text>
<text x="657.77" y="1030.54" font-size="13.67" textLength="28.11" lengthAdjust="spacingAndGlyphs">1.80</text>
<text x="694.72" y="1030.54" font-size="13.67" textLength="36.09" lengthAdjust="spacingAndGlyphs">15.45</text>
<text x="735.78" y="1030.54" font-size="13.67" textLength="36.37" lengthAdjust="spacingAndGlyphs">13.68</text>
<text x="776.96" y="1030.54" font-size="13.67" textLength="36.10" lengthAdjust="spacingAndGlyphs">30.93</text>
<text x="657.74" y="1073.20" font-size="13.67" textLength="28.03" lengthAdjust="spacingAndGlyphs">0.03</text>
<text x="698.81" y="1073.20" font-size="13.67" textLength="27.90" lengthAdjust="spacingAndGlyphs">4.75</text>
<text x="739.79" y="1073.20" font-size="13.67" textLength="28.13" lengthAdjust="spacingAndGlyphs">2.87</text>
<text x="780.95" y="1073.20" font-size="13.67" textLength="27.87" lengthAdjust="spacingAndGlyphs">7.65</text>
<text x="698.79" y="1115.87" font-size="13.67" textLength="28.27" lengthAdjust="spacingAndGlyphs">0.16</text>
<text x="739.86" y="1115.87" font-size="13.67" textLength="27.86" lengthAdjust="spacingAndGlyphs">0.12</text>
<text x="780.91" y="1115.87" font-size="13.67" textLength="28.19" lengthAdjust="spacingAndGlyphs">0.28</text>
<text x="123.96" y="1329.20" font-size="13.67" textLength="27.86" lengthAdjust="spacingAndGlyphs">0.52</text>
<text x="165.02" y="1329.20" font-size="13.67" textLength="28.03" lengthAdjust="spacingAndGlyphs">0.13</text>
<text x="206.08" y="1329.20" font-size="13.67" textLength="27.91" lengthAdjust="spacingAndGlyphs">0.05</text>
<text x="247.14" y="1329.20" font-size="13.67" textLength="27.91" lengthAdjust="spacingAndGlyphs">0.05</text>
<text x="288.20" y="1329.20" font-size="13.67" textLength="27.91" lengthAdjust="spacingAndGlyphs">0.05</text>
<text x="329.26" y="1329.20" font-size="13.67" textLength="27.86" lengthAdjust="spacingAndGlyphs">0.12</text>
<text x="370.32" y="1329.20" font-size="13.67" textLength="27.91" lengthAdjust="spacingAndGlyphs">0.45</text>
<text x="411.37" y="1329.20" font-size="13.67" textLength="28.19" lengthAdjust="spacingAndGlyphs">0.68</text>
<text x="452.43" y="1329.20" font-size="13.67" textLength="28.14" lengthAdjust="spacingAndGlyphs">0.74</text>
<text x="493.53" y="1329.20" font-size="13.67" textLength="28.10" lengthAdjust="spacingAndGlyphs">1.04</text>
<text x="534.59" y="1329.20" font-size="13.67" textLength="28.02" lengthAdjust="spacingAndGlyphs">1.17</text>
<text x="575.54" y="1329.20" font-size="13.67" textLength="28.29" lengthAdjust="spacingAndGlyphs">2.19</text>
<text x="616.69" y="1329.20" font-size="13.67" textLength="28.17" lengthAdjust="spacingAndGlyphs">4.18</text>
<text x="653.66" y="1329.20" font-size="13.67" textLength="36.32" lengthAdjust="spacingAndGlyphs">13.84</text>
<text x="694.70" y="1329.20" font-size="13.67" textLength="36.42" lengthAdjust="spacingAndGlyphs">43.29</text>
<text x="735.90" y="1329.20" font-size="13.67" textLength="36.10" lengthAdjust="spacingAndGlyphs">31.53</text>
<text x="772.73" y="1329.20" font-size="13.67" textLength="44.54" lengthAdjust="spacingAndGlyphs">100.00</text>
<text x="32.53" y="892.70" font-size="17.75" textLength="73.16" lengthAdjust="spacingAndGlyphs" xml:space="preserve" style="white-space:pre">0 - 5  kts</text>
<text x="27.37" y="935.37" font-size="17.75" textLength="78.32" lengthAdjust="spacingAndGlyphs">5 - 10 kts</text>
<text x="16.57" y="978.03" font-size="17.75" textLength="89.12" lengthAdjust="spacingAndGlyphs">10 - 15 kts</text>
<text x="16.57" y="1020.70" font-size="17.75" textLength="89.12" lengthAdjust="spacingAndGlyphs">15 - 20 kts</text>
<text x="16.44" y="1063.37" font-size="17.75" textLength="89.25" lengthAdjust="spacingAndGlyphs">20 - 25 kts</text>
<text x="16.44" y="1106.04" font-size="17.75" textLength="89.25" lengthAdjust="spacingAndGlyphs">25 - 30 kts</text>
<text x="16.73" y="1148.70" font-size="17.75" textLength="88.96" lengthAdjust="spacingAndGlyphs">30 - 35 kts</text>
<text x="16.73" y="1191.37" font-size="17.75" textLength="88.96" lengthAdjust="spacingAndGlyphs">35 - 40 kts</text>
<text x="16.56" y="1234.04" font-size="17.75" textLength="89.13" lengthAdjust="spacingAndGlyphs">40 - 45 kts</text>
<text x="16.56" y="1276.70" font-size="17.75" textLength="89.13" lengthAdjust="spacingAndGlyphs">45 - 50 kts</text>
<text x="54.88" y="860.90" font-size="17.75" textLength="40.79" lengthAdjust="spacingAndGlyphs">calm</text>
<text x="58.88" y="1319.60" font-size="17.75" textLength="41.68" lengthAdjust="spacingAndGlyphs">Total</text></g>
</svg></body></html>
